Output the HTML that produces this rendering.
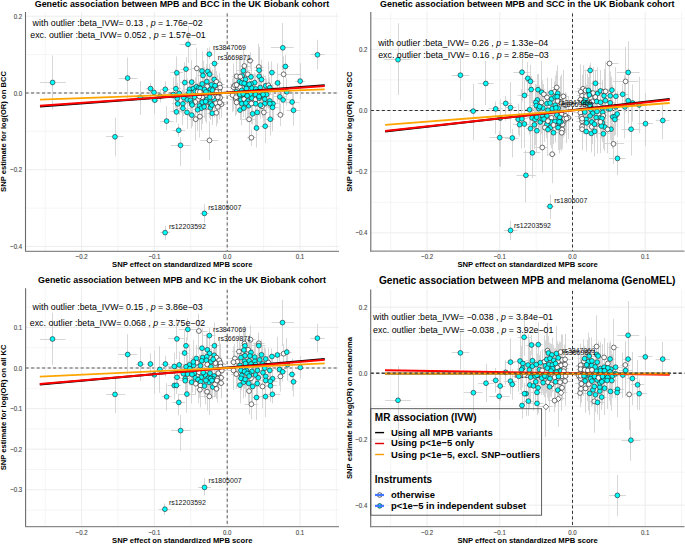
<!DOCTYPE html>
<html><head><meta charset="utf-8"><style>
html,body{margin:0;padding:0;background:#fff;width:685px;height:544px;overflow:hidden}
svg{display:block}
text{font-family:"Liberation Sans",sans-serif}
</style></head><body>
<svg width="685" height="544" viewBox="0 0 685 544">
<rect width="685" height="544" fill="#fff"/>
<line x1="45.2" y1="12" x2="45.2" y2="251.3" stroke="#EBEBEB" stroke-width="0.5"/>
<line x1="118" y1="12" x2="118" y2="251.3" stroke="#EBEBEB" stroke-width="0.5"/>
<line x1="190.8" y1="12" x2="190.8" y2="251.3" stroke="#EBEBEB" stroke-width="0.5"/>
<line x1="263.6" y1="12" x2="263.6" y2="251.3" stroke="#EBEBEB" stroke-width="0.5"/>
<line x1="336.4" y1="12" x2="336.4" y2="251.3" stroke="#EBEBEB" stroke-width="0.5"/>
<line x1="25.5" y1="54.63" x2="339" y2="54.63" stroke="#EBEBEB" stroke-width="0.5"/>
<line x1="25.5" y1="131.37" x2="339" y2="131.37" stroke="#EBEBEB" stroke-width="0.5"/>
<line x1="25.5" y1="208.11" x2="339" y2="208.11" stroke="#EBEBEB" stroke-width="0.5"/>
<line x1="81.6" y1="12" x2="81.6" y2="251.3" stroke="#EBEBEB" stroke-width="0.9"/>
<line x1="154.4" y1="12" x2="154.4" y2="251.3" stroke="#EBEBEB" stroke-width="0.9"/>
<line x1="227.2" y1="12" x2="227.2" y2="251.3" stroke="#EBEBEB" stroke-width="0.9"/>
<line x1="300" y1="12" x2="300" y2="251.3" stroke="#EBEBEB" stroke-width="0.9"/>
<line x1="25.5" y1="16.26" x2="339" y2="16.26" stroke="#EBEBEB" stroke-width="0.9"/>
<line x1="25.5" y1="93" x2="339" y2="93" stroke="#EBEBEB" stroke-width="0.9"/>
<line x1="25.5" y1="169.74" x2="339" y2="169.74" stroke="#EBEBEB" stroke-width="0.9"/>
<line x1="25.5" y1="246.48" x2="339" y2="246.48" stroke="#EBEBEB" stroke-width="0.9"/>
<line x1="25.5" y1="93" x2="339" y2="93" stroke="#8A8A8A" stroke-width="1.4" stroke-dasharray="3.1 2.4"/>
<line x1="227.2" y1="13.5" x2="227.2" y2="251.3" stroke="#5A5A5A" stroke-width="1.0" stroke-dasharray="3 2.5"/>
<path d="M40 82.5H65.8M52.5 55.4V109.4M118.8 78.5H137.5M127.5 57.6V98.4M106 136.5H123.4M115.5 117.7V156.3M135.37 97.5H145.43M140.5 81V115M160.37 232.5H169.83M165.5 225.7V239.8M200.1 213.5H208.6M204.5 204.2V222.6M271 47.5H293.7M282.5 23V70M310.4 54.5H324.5M317.5 39.7V69.5M286.6 110.5H300.4M293.5 92.26V125.7M179.4 44.5H196.5M188.5 26V63M206.11 54.5H212.49M209.5 47.6V59.4M160.2 121.5H173.7M166.5 106.3V130M172.3 130.5H185.2M178.5 123.8V136.7M170.9 145.5H190.7M180.5 137V166M200.3 140.5H218.3M209.5 121.1V160M146.01 88.5H154.99M150.5 83V98M150.75 92.5H157.25M154.5 70.3V114M150.98 100.5H158.62M154.5 91.25V109.15M160.59 89.5H170.01M165.5 81.2V97.3M154.86 96.5H165.54M160.5 89.6V102.5M210.3 63.5H218.7M214.5 48.35V78.85M191 68.5H202.6M196.5 47.69V89.11M180.7 69.5H191.3M186.5 57.19V81.01M170.3 72.5H183.3M176.5 56.4V89.2M197.85 71.5H206.15M202.5 51.33V90.67M204.23 71.5H211.17M207.5 47.82V95.18M196.97 75.5H209.03M203.5 60.81V90.19M204.64 74.5H214.56M209.5 63.87V84.73M208.53 79.5H219.87M214.5 70.77V88.03M179.51 82.5H190.09M184.5 62.37V102.83M187.45 82.5H195.95M191.5 60.09V104.11M170.52 88.5H181.28M175.5 69.58V107.82M168.48 94.5H178.12M173.5 77.32V111.88M172.42 93.5H185.98M179.5 72.06V114.94M171.54 98.5H182.86M177.5 82.81V113.99M171.89 103.5H183.51M177.5 94.83V112.77M176.83 97.5H190.77M183.5 79.45V116.15M183.16 99.5H191.44M187.5 78.65V120.95M177.23 103.5H188.57M182.5 89.63V117.97M184.65 89.5H194.35M189.5 80.94V97.66M185.53 92.5H192.47M189.5 81.71V103.09M187.33 88.5H199.47M193.5 79.56V97.44M192.51 86.5H200.49M196.5 76.63V96.77M188.71 91.5H201.69M195.5 77.24V105.76M189.9 97.5H199.5M194.5 87.91V106.49M183.87 100.5H196.93M190.5 83.51V117.09M192.24 87.5H205.16M198.5 66.69V108.91M193.14 99.5H202.46M197.5 87.35V112.25M188.66 102.5H201.74M195.5 88.26V115.74M188.1 103.5H195.3M191.5 79.98V126.62M212.47 81.5H220.33M216.5 71.08V92.72M214.66 84.5H224.54M219.5 72.67V96.13M202.75 81.5H210.85M206.5 64.17V99.03M197.52 83.5H206.88M202.5 75.83V91.97M206.13 84.5H216.67M211.5 70.89V98.71M209.24 85.5H220.76M215.5 62.45V108.95M194.83 88.5H205.77M200.5 72.25V104.75M203.98 86.5H210.42M207.5 67.68V105.32M198.38 89.5H210.62M204.5 67.01V111.79M204.21 89.5H216.59M210.5 67.41V111.39M213.2 89.5H222.4M217.5 75.12V103.68M214.56 87.5H225.64M220.5 77.94V97.26M194.33 91.5H200.87M197.5 82.7V100.7M204.95 93.5H212.25M208.5 81.76V104.44M209.99 92.5H216.41M213.5 78.76V105.64M215.99 92.5H223.21M219.5 84.2V100.2M197.75 97.5H206.65M202.5 87.58V106.82M200.3 99.5H213.3M206.5 91.09V107.91M210.51 99.5H217.69M214.5 81.67V117.33M215.71 97.5H224.49M220.5 85.66V109.74M208.81 97.5H215.79M212.5 83.37V111.03M195.23 102.5H209.17M202.5 80.72V123.88M205.46 103.5H215.34M210.5 87.74V118.66M212.59 103.5H219.41M216.5 93.83V112.57M217.44 104.5H225.56M221.5 90.62V117.58M188.45 105.5H195.75M192.5 83.74V126.26M192.6 106.5H206.2M199.5 97.63V114.37M203.21 106.5H210.39M206.5 90.45V123.35M214.69 106.5H220.91M217.5 90.21V123.59M175.99 108.5H189.81M182.5 91.85V124.75M195.42 108.5H206.98M201.5 86.49V130.11M205.93 107.5H214.87M210.5 95.62V119.98M170.31 111.5H182.49M176.5 101.23V122.57M180.88 112.5H193.12M187.5 95.88V128.92M187.91 115.5H195.69M191.5 101.83V128.37M190.66 109.5H204.54M197.5 88.82V130.78M189.48 119.5H201.92M195.5 97.56V140.84M193.94 116.5H205.86M199.5 95.41V137.59M207.23 113.5H217.37M212.5 101.67V124.93M213.28 112.5H219.52M216.5 99.11V126.49M245.98 60.5H254.22M250.5 52.25V69.15M238.63 66.5H250.17M244.5 53.85V78.15M254.01 67.5H263.59M258.5 43.7V90.3M236.45 70.5H250.35M243.5 47.81V93.79M254.64 70.5H263.56M259.5 46.92V93.48M281.49 66.5H289.31M285.5 54.97V78.03M268.08 72.5H275.72M271.5 61.45V83.75M277 74.5H301.3M283.5 56.31V92.29M231.78 76.5H241.62M236.5 54.85V97.75M241.6 74.5H254M247.5 55.85V92.75M245.36 76.5H256.64M251.5 67.54V86.26M253.07 76.5H265.33M259.5 53.74V98.86M256.59 79.5H266.41M261.5 59.6V99.6M236.04 76.5H248.36M242.5 65.14V86.86M236.5 79.5H248.9M242.5 66.28V92.92M234.92 81.5H244.08M239.5 58.15V105.25M238.71 79.5H252.29M245.5 64.98V93.82M273.92 83.5H281.28M277.5 63.4V102.6M251.1 82.5H258.3M254.5 72.57V92.63M244.77 84.5H257.23M251.5 61.52V106.48M239.59 84.5H252.21M245.5 74.56V95.24M227.87 87.5H239.13M233.5 63.52V110.88M234.81 87.5H245.19M240.5 73.59V100.81M262.64 85.5H268.76M265.5 75.7V95.9M262.8 85.5H274M268.5 61.77V108.83M253.47 87.5H266.93M260.5 71.17V104.03M245.41 88.5H258.39M251.5 73.16V103.04M242.56 88.5H250.24M246.5 67.28V109.72M230.73 85.5H239.07M234.5 73.27V97.33M236.45 90.5H247.15M241.5 78.55V102.25M231.62 91.5H240.98M236.5 79.65V103.95M263.16 87.5H276.44M269.5 77.5V97.7M281.97 91.5H291.63M286.5 78.14V105.46M273.28 96.5H286.52M279.5 79.47V114.13M276.43 99.5H289.77M283.5 85.17V114.63M261.47 94.5H271.73M266.5 78.47V110.53M258.03 95.5H264.17M261.5 79.02V111.78M251.87 94.5H259.33M255.5 79.46V109.54M244.3 94.5H256.7M250.5 86.04V102.16M240.61 95.5H250.39M245.5 84.64V106.16M234.77 96.5H245.23M240.5 76.8V116M230.33 95.5H240.47M235.5 82.18V108.62M229.66 99.5H241.94M235.5 82.21V115.99M235.66 100.5H246.14M240.5 90.3V109.7M239.99 99.5H248.21M244.5 87.12V111.08M242.77 101.5H252.83M247.5 80.64V121.36M245.86 98.5H257.94M251.5 81.21V115.19M250.83 99.5H260.37M255.5 77V122.2M254.18 98.5H264.22M259.5 80.4V116M259.03 99.5H270.57M264.5 82.91V115.29M264.67 101.5H274.93M269.5 85.76V116.24M266.23 103.5H279.77M273.5 88.05V119.35M258.29 103.5H271.31M264.5 84.51V122.89M251.56 103.5H259.64M255.5 80.63V126.77M241.43 103.5H254.97M248.5 86.75V120.65M238.25 103.5H245.35M241.5 82.26V125.14M235.23 110.5H244.77M240.5 100.15V120.05M239.84 108.5H247.76M243.5 98.94V117.26M243.02 105.5H254.38M248.5 96.53V114.87M244.81 103.5H257.99M251.5 82.96V124.04M246.74 113.5H258.46M252.5 103.33V124.27M253.63 112.5H260.77M257.5 93.84V130.96M242.23 119.5H255.97M249.5 97.17V141.43M255.19 106.5H268.81M262.5 94.79V117.81M264.85 103.5H274.75M269.5 89.33V118.07M266.27 107.5H278.93M272.5 83.56V131.24M259.07 112.5H268.53M263.5 101.82V122.98M265.94 119.5H274.66M270.5 103.05V135.55M276.13 114.5H284.67M280.5 103.77V126.03M253.42 128.5H259.58M256.5 108.45V147.55M260.44 126.5H269.96M265.5 109.34V143.06M247.07 137.5H255.73M251.5 129.41V145.99M295.15 81.5H305.25M300.5 63.12V99.08M285.16 102.5H299.04M292.5 92.97V111.03M205.61 90.5H219.39M212.5 69.59V110.81M195.84 91.5H203.96M199.5 82.22V101.58M199.78 91.5H212.02M205.5 83.27V100.53M212.98 91.5H220.02M216.5 79.57V104.23M192.65 96.5H205.95M199.5 81.74V111.26M205.87 97.5H213.93M209.5 76.1V118.3M211.12 97.5H224.48M217.5 86.81V107.59M214 102.5H225.6M219.5 85.37V119.63M208.67 105.5H215.13M211.5 95.67V114.53M235.6 76.5H245M240.5 57.59V95.61M234.85 82.5H248.35M241.5 73.74V92.06M237.99 83.5H250.41M244.5 65.15V101.45M242.78 84.5H255.62M249.5 74.96V93.64M230.15 84.5H243.05M236.5 75.83V93.97M251.44 88.5H260.16M255.5 73.64V104.16M225.89 95.5H239.31M232.5 78.35V112.05M232.48 97.5H239.52M236.5 84.91V109.49M235.95 94.5H243.85M239.5 78.07V110.93M239.55 93.5H246.85M243.5 84.15V103.65M243.39 95.5H251.01M247.5 86.99V104.61M254.88 96.5H263.32M259.5 83.51V109.49M258.94 94.5H267.26M263.5 74.35V114.65M242.19 103.5H249.61M245.5 87.1V119.1M257.43 105.5H263.57M260.5 91.55V118.65M233.54 102.5H239.66M236.5 90.49V114.51M200.4 101.5H210.8M205.5 81.77V121.23M199.3 106.5H209.1M204.5 95.77V117.83" stroke="#D2D2D2" stroke-width="0.9" fill="none"/>
<g stroke="#1f1f1f" stroke-width="0.62"><circle cx="52.6" cy="82.5" r="2.4" fill="#00FFFF"/><circle cx="127.6" cy="78.1" r="2.4" fill="#00FFFF"/><circle cx="115" cy="136.8" r="2.4" fill="#00FFFF"/><circle cx="140.4" cy="97.3" r="2.4" fill="#00FFFF"/><circle cx="165.1" cy="232.6" r="2.4" fill="#00FFFF"/><circle cx="204.4" cy="213.4" r="2.4" fill="#00FFFF"/><circle cx="282.8" cy="47.8" r="2.4" fill="#00FFFF"/><circle cx="317.5" cy="54.8" r="2.4" fill="#00FFFF"/><circle cx="293.5" cy="110.3" r="2.4" fill="#00FFFF"/><circle cx="188" cy="44.3" r="2.4" fill="#00FFFF"/><circle cx="209.3" cy="54.2" r="2.4" fill="#00FFFF"/><circle cx="166.6" cy="121.1" r="2.4" fill="#00FFFF"/><circle cx="178.7" cy="130.3" r="2.4" fill="#00FFFF"/><circle cx="180.5" cy="145.3" r="2.4" fill="#00FFFF"/><circle cx="209.5" cy="140.4" r="2.4" fill="#FFFFFF"/><circle cx="150.5" cy="88.6" r="2.4" fill="#00FFFF"/><circle cx="154" cy="92.4" r="2.4" fill="#00FFFF"/><circle cx="154.8" cy="100.2" r="2.4" fill="#00FFFF"/><circle cx="165.3" cy="89.3" r="2.4" fill="#00FFFF"/><circle cx="160.2" cy="96.3" r="2.4" fill="#00FFFF"/><circle cx="214.5" cy="63.6" r="2.4" fill="#00FFFF"/><circle cx="196.8" cy="68.4" r="2.4" fill="#FFFFFF"/><circle cx="186" cy="69.1" r="2.4" fill="#00FFFF"/><circle cx="176.8" cy="72.8" r="2.4" fill="#00FFFF"/><circle cx="202" cy="71" r="2.4" fill="#00FFFF"/><circle cx="207.7" cy="71.5" r="2.4" fill="#00FFFF"/><circle cx="203" cy="75.5" r="2.4" fill="#00FFFF"/><circle cx="209.6" cy="74.3" r="2.4" fill="#00FFFF"/><circle cx="214.2" cy="79.4" r="2.4" fill="#00FFFF"/><circle cx="184.8" cy="82.6" r="2.4" fill="#00FFFF"/><circle cx="191.7" cy="82.1" r="2.4" fill="#00FFFF"/><circle cx="175.9" cy="88.7" r="2.4" fill="#00FFFF"/><circle cx="173.3" cy="94.6" r="2.4" fill="#00FFFF"/><circle cx="179.2" cy="93.5" r="2.4" fill="#00FFFF"/><circle cx="177.2" cy="98.4" r="2.4" fill="#00FFFF"/><circle cx="177.7" cy="103.8" r="2.4" fill="#00FFFF"/><circle cx="183.8" cy="97.8" r="2.4" fill="#00FFFF"/><circle cx="187.3" cy="99.8" r="2.4" fill="#00FFFF"/><circle cx="182.9" cy="103.8" r="2.4" fill="#00FFFF"/><circle cx="189.5" cy="89.3" r="2.4" fill="#00FFFF"/><circle cx="189" cy="92.4" r="2.4" fill="#00FFFF"/><circle cx="193.4" cy="88.5" r="2.4" fill="#00FFFF"/><circle cx="196.5" cy="86.7" r="2.4" fill="#00FFFF"/><circle cx="195.2" cy="91.5" r="2.4" fill="#00FFFF"/><circle cx="194.7" cy="97.2" r="2.4" fill="#00FFFF"/><circle cx="190.4" cy="100.3" r="2.4" fill="#00FFFF"/><circle cx="198.7" cy="87.8" r="2.4" fill="#00FFFF"/><circle cx="197.8" cy="99.8" r="2.4" fill="#FFFFFF"/><circle cx="195.2" cy="102" r="2.4" fill="#FFFFFF"/><circle cx="191.7" cy="103.3" r="2.4" fill="#00FFFF"/><circle cx="216.4" cy="81.9" r="2.4" fill="#FFFFFF"/><circle cx="219.6" cy="84.4" r="2.4" fill="#FFFFFF"/><circle cx="206.8" cy="81.6" r="2.4" fill="#00FFFF"/><circle cx="202.2" cy="83.9" r="2.4" fill="#00FFFF"/><circle cx="211.4" cy="84.8" r="2.4" fill="#00FFFF"/><circle cx="215" cy="85.7" r="2.4" fill="#00FFFF"/><circle cx="200.3" cy="88.5" r="2.4" fill="#00FFFF"/><circle cx="207.2" cy="86.5" r="2.4" fill="#FFFFFF"/><circle cx="204.5" cy="89.4" r="2.4" fill="#00FFFF"/><circle cx="210.4" cy="89.4" r="2.4" fill="#00FFFF"/><circle cx="217.8" cy="89.4" r="2.4" fill="#FFFFFF"/><circle cx="220.1" cy="87.6" r="2.4" fill="#FFFFFF"/><circle cx="197.6" cy="91.7" r="2.4" fill="#FFFFFF"/><circle cx="208.6" cy="93.1" r="2.4" fill="#00FFFF"/><circle cx="213.2" cy="92.2" r="2.4" fill="#00FFFF"/><circle cx="219.6" cy="92.2" r="2.4" fill="#FFFFFF"/><circle cx="202.2" cy="97.2" r="2.4" fill="#FFFFFF"/><circle cx="206.8" cy="99.5" r="2.4" fill="#00FFFF"/><circle cx="214.1" cy="99.5" r="2.4" fill="#00FFFF"/><circle cx="220.1" cy="97.7" r="2.4" fill="#FFFFFF"/><circle cx="212.3" cy="97.2" r="2.4" fill="#FFFFFF"/><circle cx="202.2" cy="102.3" r="2.4" fill="#00FFFF"/><circle cx="210.4" cy="103.2" r="2.4" fill="#00FFFF"/><circle cx="216" cy="103.2" r="2.4" fill="#FFFFFF"/><circle cx="221.5" cy="104.1" r="2.4" fill="#FFFFFF"/><circle cx="192.1" cy="105" r="2.4" fill="#00FFFF"/><circle cx="199.4" cy="106" r="2.4" fill="#00FFFF"/><circle cx="206.8" cy="106.9" r="2.4" fill="#FFFFFF"/><circle cx="217.8" cy="106.9" r="2.4" fill="#FFFFFF"/><circle cx="182.9" cy="108.3" r="2.4" fill="#00FFFF"/><circle cx="201.2" cy="108.3" r="2.4" fill="#00FFFF"/><circle cx="210.4" cy="107.8" r="2.4" fill="#00FFFF"/><circle cx="176.4" cy="111.9" r="2.4" fill="#00FFFF"/><circle cx="187" cy="112.4" r="2.4" fill="#00FFFF"/><circle cx="191.8" cy="115.1" r="2.4" fill="#00FFFF"/><circle cx="197.6" cy="109.8" r="2.4" fill="#00FFFF"/><circle cx="195.7" cy="119.2" r="2.4" fill="#FFFFFF"/><circle cx="199.9" cy="116.5" r="2.4" fill="#FFFFFF"/><circle cx="212.3" cy="113.3" r="2.4" fill="#00FFFF"/><circle cx="216.4" cy="112.8" r="2.4" fill="#FFFFFF"/><circle cx="250.1" cy="60.7" r="2.4" fill="#FFFFFF"/><circle cx="244.4" cy="66" r="2.4" fill="#FFFFFF"/><circle cx="258.8" cy="67" r="2.4" fill="#FFFFFF"/><circle cx="243.4" cy="70.8" r="2.4" fill="#00FFFF"/><circle cx="259.1" cy="70.2" r="2.4" fill="#00FFFF"/><circle cx="285.4" cy="66.5" r="2.4" fill="#00FFFF"/><circle cx="271.9" cy="72.6" r="2.4" fill="#00FFFF"/><circle cx="283.6" cy="74.3" r="2.4" fill="#FFFFFF"/><circle cx="236.7" cy="76.3" r="2.4" fill="#FFFFFF"/><circle cx="247.8" cy="74.3" r="2.4" fill="#FFFFFF"/><circle cx="251" cy="76.9" r="2.4" fill="#00FFFF"/><circle cx="259.2" cy="76.3" r="2.4" fill="#00FFFF"/><circle cx="261.5" cy="79.6" r="2.4" fill="#00FFFF"/><circle cx="242.2" cy="76" r="2.4" fill="#00FFFF"/><circle cx="242.7" cy="79.6" r="2.4" fill="#FFFFFF"/><circle cx="239.5" cy="81.7" r="2.4" fill="#00FFFF"/><circle cx="245.5" cy="79.4" r="2.4" fill="#00FFFF"/><circle cx="277.6" cy="83" r="2.4" fill="#00FFFF"/><circle cx="254.7" cy="82.6" r="2.4" fill="#00FFFF"/><circle cx="251" cy="84" r="2.4" fill="#00FFFF"/><circle cx="245.9" cy="84.9" r="2.4" fill="#00FFFF"/><circle cx="233.5" cy="87.2" r="2.4" fill="#FFFFFF"/><circle cx="240" cy="87.2" r="2.4" fill="#FFFFFF"/><circle cx="265.7" cy="85.8" r="2.4" fill="#00FFFF"/><circle cx="268.4" cy="85.3" r="2.4" fill="#FFFFFF"/><circle cx="260.2" cy="87.6" r="2.4" fill="#00FFFF"/><circle cx="251.9" cy="88.1" r="2.4" fill="#00FFFF"/><circle cx="246.4" cy="88.5" r="2.4" fill="#00FFFF"/><circle cx="234.9" cy="85.3" r="2.4" fill="#FFFFFF"/><circle cx="241.8" cy="90.4" r="2.4" fill="#00FFFF"/><circle cx="236.3" cy="91.8" r="2.4" fill="#00FFFF"/><circle cx="269.8" cy="87.6" r="2.4" fill="#00FFFF"/><circle cx="286.8" cy="91.8" r="2.4" fill="#00FFFF"/><circle cx="279.9" cy="96.8" r="2.4" fill="#00FFFF"/><circle cx="283.1" cy="99.9" r="2.4" fill="#00FFFF"/><circle cx="266.6" cy="94.5" r="2.4" fill="#00FFFF"/><circle cx="261.1" cy="95.4" r="2.4" fill="#00FFFF"/><circle cx="255.6" cy="94.5" r="2.4" fill="#00FFFF"/><circle cx="250.5" cy="94.1" r="2.4" fill="#00FFFF"/><circle cx="245.5" cy="95.4" r="2.4" fill="#00FFFF"/><circle cx="240" cy="96.4" r="2.4" fill="#00FFFF"/><circle cx="235.4" cy="95.4" r="2.4" fill="#FFFFFF"/><circle cx="235.8" cy="99.1" r="2.4" fill="#FFFFFF"/><circle cx="240.9" cy="100" r="2.4" fill="#00FFFF"/><circle cx="244.1" cy="99.1" r="2.4" fill="#FFFFFF"/><circle cx="247.8" cy="101" r="2.4" fill="#00FFFF"/><circle cx="251.9" cy="98.2" r="2.4" fill="#00FFFF"/><circle cx="255.6" cy="99.6" r="2.4" fill="#FFFFFF"/><circle cx="259.2" cy="98.2" r="2.4" fill="#00FFFF"/><circle cx="264.8" cy="99.1" r="2.4" fill="#00FFFF"/><circle cx="269.8" cy="101" r="2.4" fill="#00FFFF"/><circle cx="273" cy="103.7" r="2.4" fill="#00FFFF"/><circle cx="264.8" cy="103.7" r="2.4" fill="#00FFFF"/><circle cx="255.6" cy="103.7" r="2.4" fill="#00FFFF"/><circle cx="248.2" cy="103.7" r="2.4" fill="#FFFFFF"/><circle cx="241.8" cy="103.7" r="2.4" fill="#00FFFF"/><circle cx="240" cy="110.1" r="2.4" fill="#00FFFF"/><circle cx="243.8" cy="108.1" r="2.4" fill="#00FFFF"/><circle cx="248.7" cy="105.7" r="2.4" fill="#00FFFF"/><circle cx="251.4" cy="103.5" r="2.4" fill="#FFFFFF"/><circle cx="252.6" cy="113.8" r="2.4" fill="#00FFFF"/><circle cx="257.2" cy="112.4" r="2.4" fill="#00FFFF"/><circle cx="249.1" cy="119.3" r="2.4" fill="#FFFFFF"/><circle cx="262" cy="106.3" r="2.4" fill="#FFFFFF"/><circle cx="269.8" cy="103.7" r="2.4" fill="#00FFFF"/><circle cx="272.6" cy="107.4" r="2.4" fill="#00FFFF"/><circle cx="263.8" cy="112.4" r="2.4" fill="#FFFFFF"/><circle cx="270.3" cy="119.3" r="2.4" fill="#00FFFF"/><circle cx="280.4" cy="114.9" r="2.4" fill="#FFFFFF"/><circle cx="256.5" cy="128" r="2.4" fill="#00FFFF"/><circle cx="265.2" cy="126.2" r="2.4" fill="#00FFFF"/><circle cx="251.4" cy="137.7" r="2.4" fill="#FFFFFF"/><circle cx="300.2" cy="81.1" r="2.4" fill="#00FFFF"/><circle cx="292.1" cy="102" r="2.4" fill="#00FFFF"/><circle cx="212.5" cy="90.2" r="2.4" fill="#00FFFF"/><circle cx="199.9" cy="91.9" r="2.4" fill="#FFFFFF"/><circle cx="205.9" cy="91.9" r="2.4" fill="#00FFFF"/><circle cx="216.5" cy="91.9" r="2.4" fill="#FFFFFF"/><circle cx="199.3" cy="96.5" r="2.4" fill="#FFFFFF"/><circle cx="209.9" cy="97.2" r="2.4" fill="#00FFFF"/><circle cx="217.8" cy="97.2" r="2.4" fill="#FFFFFF"/><circle cx="219.8" cy="102.5" r="2.4" fill="#FFFFFF"/><circle cx="211.9" cy="105.1" r="2.4" fill="#00FFFF"/><circle cx="240.3" cy="76.6" r="2.4" fill="#FFFFFF"/><circle cx="241.6" cy="82.9" r="2.4" fill="#00FFFF"/><circle cx="244.2" cy="83.3" r="2.4" fill="#00FFFF"/><circle cx="249.2" cy="84.3" r="2.4" fill="#00FFFF"/><circle cx="236.6" cy="84.9" r="2.4" fill="#FFFFFF"/><circle cx="255.8" cy="88.9" r="2.4" fill="#00FFFF"/><circle cx="232.6" cy="95.2" r="2.4" fill="#FFFFFF"/><circle cx="236" cy="97.2" r="2.4" fill="#FFFFFF"/><circle cx="239.9" cy="94.5" r="2.4" fill="#00FFFF"/><circle cx="243.2" cy="93.9" r="2.4" fill="#00FFFF"/><circle cx="247.2" cy="95.8" r="2.4" fill="#00FFFF"/><circle cx="259.1" cy="96.5" r="2.4" fill="#00FFFF"/><circle cx="263.1" cy="94.5" r="2.4" fill="#00FFFF"/><circle cx="245.9" cy="103.1" r="2.4" fill="#00FFFF"/><circle cx="260.5" cy="105.1" r="2.4" fill="#00FFFF"/><circle cx="236.6" cy="102.5" r="2.4" fill="#FFFFFF"/><circle cx="205.6" cy="101.5" r="2.4" fill="#00FFFF"/><circle cx="204.2" cy="106.8" r="2.4" fill="#00FFFF"/></g>
<line x1="40" y1="106.6" x2="324.7" y2="85.3" stroke="#000" stroke-width="2.0"/>
<line x1="40" y1="105.8" x2="324.7" y2="86.1" stroke="#FF0000" stroke-width="2.0"/>
<line x1="40" y1="99.6" x2="324.7" y2="89.4" stroke="#FFA500" stroke-width="1.8"/>
<path d="M25.5 12V251.8" stroke="#6A6A6A" stroke-width="1.1" fill="none"/>
<path d="M25.0 251.3H339" stroke="#8A8A8A" stroke-width="1.2" fill="none"/>
<text transform="translate(81.6 258.8) scale(1 1.2)" text-anchor="middle" font-size="6.1" fill="#4A4A4A" stroke="#4A4A4A" stroke-width="0.1">−0.2</text>
<text transform="translate(154.4 258.8) scale(1 1.2)" text-anchor="middle" font-size="6.1" fill="#4A4A4A" stroke="#4A4A4A" stroke-width="0.1">−0.1</text>
<text transform="translate(227.2 258.8) scale(1 1.2)" text-anchor="middle" font-size="6.1" fill="#4A4A4A" stroke="#4A4A4A" stroke-width="0.1">0.0</text>
<text transform="translate(300 258.8) scale(1 1.2)" text-anchor="middle" font-size="6.1" fill="#4A4A4A" stroke="#4A4A4A" stroke-width="0.1">0.1</text>
<text transform="translate(22.1 18.76) scale(1 1.2)" text-anchor="end" font-size="6.1" fill="#4A4A4A" stroke="#4A4A4A" stroke-width="0.1">0.2</text>
<text transform="translate(22.1 95.5) scale(1 1.2)" text-anchor="end" font-size="6.1" fill="#4A4A4A" stroke="#4A4A4A" stroke-width="0.1">0.0</text>
<text transform="translate(22.1 172.24) scale(1 1.2)" text-anchor="end" font-size="6.1" fill="#4A4A4A" stroke="#4A4A4A" stroke-width="0.1">−0.2</text>
<text transform="translate(22.1 248.98) scale(1 1.2)" text-anchor="end" font-size="6.1" fill="#4A4A4A" stroke="#4A4A4A" stroke-width="0.1">−0.4</text>
<text x="34.7" y="6.9" font-size="8.94" style="font-weight:bold">Genetic association between MPB and BCC in the UK Biobank cohort</text>
<text x="32.6" y="26.1" font-size="8.83">with outlier :beta_IVW= 0.13 , <tspan font-style="italic">p</tspan> = 1.76e−02</text>
<text x="30.3" y="37.5" font-size="8.83">exc. outlier :beta_IVW= 0.052 , <tspan font-style="italic">p</tspan> = 1.57e−01</text>
<text x="182.3" y="266.8" text-anchor="middle" font-size="7.65" style="font-weight:bold">SNP effect on standardized MPB score</text>
<text transform="translate(6.4 131.5) rotate(-90)" text-anchor="middle" font-size="7.62" style="font-weight:bold">SNP estimate for log(OR) on BCC</text>
<text x="212.9" y="50.1" font-size="7" fill="#111">rs3847069</text>
<text x="217.7" y="59.9" font-size="7" fill="#111">rs3669871</text>
<text x="208.2" y="209.5" font-size="7" fill="#111">rs1805007</text>
<text x="168.9" y="228.5" font-size="7" fill="#111">rs12203592</text>
<line x1="390.75" y1="12" x2="390.75" y2="251.2" stroke="#EBEBEB" stroke-width="0.5"/>
<line x1="463.45" y1="12" x2="463.45" y2="251.2" stroke="#EBEBEB" stroke-width="0.5"/>
<line x1="536.15" y1="12" x2="536.15" y2="251.2" stroke="#EBEBEB" stroke-width="0.5"/>
<line x1="608.85" y1="12" x2="608.85" y2="251.2" stroke="#EBEBEB" stroke-width="0.5"/>
<line x1="681.55" y1="12" x2="681.55" y2="251.2" stroke="#EBEBEB" stroke-width="0.5"/>
<line x1="370.8" y1="18.7" x2="684.5" y2="18.7" stroke="#EBEBEB" stroke-width="0.5"/>
<line x1="370.8" y1="79.9" x2="684.5" y2="79.9" stroke="#EBEBEB" stroke-width="0.5"/>
<line x1="370.8" y1="141.1" x2="684.5" y2="141.1" stroke="#EBEBEB" stroke-width="0.5"/>
<line x1="370.8" y1="202.3" x2="684.5" y2="202.3" stroke="#EBEBEB" stroke-width="0.5"/>
<line x1="427.1" y1="12" x2="427.1" y2="251.2" stroke="#EBEBEB" stroke-width="0.9"/>
<line x1="499.8" y1="12" x2="499.8" y2="251.2" stroke="#EBEBEB" stroke-width="0.9"/>
<line x1="572.5" y1="12" x2="572.5" y2="251.2" stroke="#EBEBEB" stroke-width="0.9"/>
<line x1="645.2" y1="12" x2="645.2" y2="251.2" stroke="#EBEBEB" stroke-width="0.9"/>
<line x1="370.8" y1="49.3" x2="684.5" y2="49.3" stroke="#EBEBEB" stroke-width="0.9"/>
<line x1="370.8" y1="110.5" x2="684.5" y2="110.5" stroke="#EBEBEB" stroke-width="0.9"/>
<line x1="370.8" y1="171.7" x2="684.5" y2="171.7" stroke="#EBEBEB" stroke-width="0.9"/>
<line x1="370.8" y1="232.9" x2="684.5" y2="232.9" stroke="#EBEBEB" stroke-width="0.9"/>
<line x1="370.8" y1="110.5" x2="684.5" y2="110.5" stroke="#333" stroke-width="1.0" stroke-dasharray="3.1 2.4"/>
<line x1="572.5" y1="13.5" x2="572.5" y2="251.2" stroke="#333" stroke-width="1.0" stroke-dasharray="3 2.5"/>
<path d="M384.3 59.5H410.8M398.5 23.3V95M451.6 75.5H469.3M460.5 57.5V100.5M478.1 83.5H493.5M485.5 60.8V105M468.17 111.5H478.23M473.5 84V140M488.77 108.5H502.63M495.5 101.6V134.03M499.37 103.5H512.03M505.5 96V120.94M504.96 107.5H516.04M510.5 82.05V133.15M495.81 118.5H504.59M500.5 99.3V166.6M489.3 137.5H508.8M499.5 131V166.6M505 138.5H518.8M512.5 128.8V157.4M514.55 119.5H521.85M518.5 103.68V134.92M513.23 124.5H525.97M519.5 112.84V136.56M513.3 72.5H529.6M522.5 59V101.35M523.83 78.5H531.77M527.5 62.1V94.5M525.66 81.5H535.34M530.5 64.95V97.85M526.42 89.5H535.98M531.5 76.03V102.97M531.15 89.5H544.85M538.5 73.91V105.49M536.51 92.5H546.89M541.5 60.9V123.7M517.64 95.5H531.36M524.5 80.02V110.78M552.27 87.5H561.13M556.5 70.69V104.31M550.17 91.5H559.23M554.5 81.78V101.82M552.69 93.5H562.71M557.5 72.86V113.74M546.08 92.5H556.12M551.5 78.38V107.22M539.84 94.5H547.96M543.5 84.19V104.41M542.4 97.5H551.6M547.5 85.43V109.37M548.51 98.5H554.69M551.5 87.98V109.82M551.27 96.5H559.13M555.5 80.21V113.59M556.18 97.5H566.42M561.5 74.52V120.28M557.77 96.5H569.03M563.5 69.89V122.91M530.78 100.5H543.82M537.5 74.25V125.75M531.5 102.5H540.1M535.5 83.93V121.07M537.8 102.5H545M541.5 70.84V134.16M541.43 103.5H552.57M547.5 77.57V129.43M543.76 103.5H556.44M550.5 92.04V113.96M549.69 105.5H560.71M555.5 75.48V134.72M554.55 102.5H567.05M560.5 76.36V128.64M560.3 105.5H570.5M565.5 92.04V118.16M529.96 105.5H542.64M536.5 84.5V126.7M536.59 108.5H549.21M542.5 80.4V135.8M532.23 108.5H545.37M538.5 85.75V131.45M523.83 109.5H535.37M529.5 84.68V134.72M548.98 108.5H555.22M552.5 93.54V123.66M553.76 108.5H562.64M558.5 95.17V121.03M589.16 83.5H601.84M595.5 70.99V95.61M552.09 101.5H563.11M557.5 78.71V123.29M577.28 88.5H588.72M583.5 65.02V112.58M582.59 90.5H588.61M585.5 69.74V111.26M574.81 91.5H586.79M580.5 64.25V119.35M576.96 95.5H587.24M582.5 74.73V116.87M577.14 99.5H583.66M580.5 75.2V124.2M581.59 98.5H589.61M585.5 72.59V125.01M585.54 92.5H593.66M589.5 80.66V103.94M589.28 93.5H596.92M593.5 67.05V119.15M590.6 93.5H604.4M597.5 67.32V119.88M595.97 90.5H605.03M600.5 70.03V111.77M598.27 91.5H609.73M604.5 71.26V112.34M598.53 95.5H609.47M604.5 68.93V122.67M606.89 95.5H613.51M610.5 71.66V119.94M607.88 90.5H615.92M611.5 76.86V103.34M586.68 98.5H595.12M590.5 71.65V124.35M592.25 97.5H598.35M595.5 74.61V119.59M592.52 101.5H600.68M596.5 90.17V112.83M594.73 102.5H606.27M600.5 77.52V127.08M601.24 100.5H609.56M605.5 75.73V125.47M605.34 102.5H615.06M610.5 81.44V124.16M588.73 101.5H595.67M592.5 81.24V121.76M583.6 103.5H591.2M587.5 73.54V132.86M577.15 102.5H590.65M583.5 70.78V133.82M585.16 105.5H594.84M590.5 95.01V115.79M595.43 108.5H609.17M602.5 79.96V136.04M604.33 108.5H612.47M608.5 89.01V128.79M573.62 112.5H587.18M580.5 98.18V127.42M579.47 112.5H590.13M584.5 97.36V126.64M585.8 109.5H596M590.5 96.68V122.92M589.17 113.5H596.23M592.5 82.34V144.26M591.97 111.5H602.03M597.5 83.46V139.54M596.89 112.5H608.51M602.5 82.89V141.91M574.71 116.5H587.89M581.5 101.71V131.89M583 119.5H589.2M586.5 98.7V140.1M585.03 115.5H594.97M590.5 105.82V125.98M591.99 117.5H600.41M596.5 97.78V137.62M596.12 117.5H604.88M600.5 104.6V130.8M596.84 115.5H609.56M603.5 98.95V132.85M576.1 121.5H588.1M582.5 111.16V131.24M583.02 122.5H589.98M586.5 94.44V151.36M585.95 122.5H597.65M591.5 91.62V152.38M592.84 123.5H601.16M597.5 93.97V153.63M597.73 122.5H606.87M602.5 104.71V141.09M607.44 116.5H618.16M612.5 84.83V148.77M556.89 114.5H566.31M561.5 96.16V132.04M562.31 115.5H568.69M565.5 99.85V131.95M552.56 119.5H565.24M558.5 107.16V131.64M557.06 121.5H570.54M563.5 104.92V137.48M552.74 115.5H560.86M556.5 99.51V130.49M535.94 106.5H543.46M539.5 85.36V127.84M541.08 110.5H554.72M547.5 91.99V128.41M515.65 118.5H528.15M521.5 89.45V148.35M517.75 124.5H531.05M524.5 100.12V147.88M526.9 117.5H537.3M532.5 87.2V148.6M531.9 119.5H538.3M535.5 93.57V145.23M535.5 122.5H545.1M540.5 95.89V148.11M536.72 118.5H547.88M542.5 92.34V145.46M543.7 115.5H550.1M546.5 99.5V132.1M547.99 117.5H555.01M551.5 87.51V148.29M555.33 117.5H564.07M559.5 97.01V137.79M558.34 118.5H570.26M564.5 102.35V135.45M526.46 128.5H534.54M530.5 97.12V160.08M530.2 124.5H538.6M534.5 100.37V149.23M532.32 130.5H541.48M536.5 108.44V152.96M543.25 124.5H550.55M546.5 110.82V138.18M544.38 122.5H557.62M551.5 107.43V136.57M551.22 121.5H558.98M555.5 100.56V142.44M552.21 123.5H566.19M559.5 93.56V153.44M559.14 124.5H566.26M562.5 104.6V144.4M541.54 127.5H548.26M544.5 113.37V141.83M547.14 127.5H553.86M550.5 110.08V145.12M549.47 125.5H557.53M553.5 109.74V140.26M551.55 127.5H564.65M558.5 105.07V150.13M543.25 129.5H552.55M547.5 103.11V156.09M557.1 129.5H567.3M562.5 110.49V148.71M557.35 132.5H566.05M561.5 114.41V150.99M549.39 132.5H557.61M553.5 121.33V144.07M534.6 147.5H547.9M542.5 116.21V172.7M523.4 152.5H540.3M532.5 131.83V178M548.34 154.5H556.06M552.5 125.22V183.18M605.51 63.5H618.5M609.5 40V88.9M616.6 72.5H639.7M628.5 41.3V91.19M612.7 81.5H638.4M625.5 47V112.39M612.81 96.5H618.99M615.5 67.1V125.5M616.86 94.5H628.54M622.5 83.59V105.01M600.71 91.5H610.49M605.5 61.69V121.11M625.2 100.5H631.2M628.5 77.78V123.62M625.99 103.5H639.41M632.5 84.39V121.61M632.68 105.5H645.52M639.5 76.84V133.16M620.91 106.5H628.89M624.5 75.51V138.29M612.28 106.5H619.52M615.5 94.5V119.3M655.8 120.5H669.6M662.5 105V139.1M637.9 123.5H653M645.5 92.99V146M621.4 129.5H640.6M631.5 104.96V155.6M604 143.5H624.1M613.5 123.84V163.96M609 158.5H625.5M617.5 140.5V175M596.72 133.5H610.08M603.5 118.68V148.92M600.58 127.5H609.02M604.5 102.8V151.2M606.99 129.5H615.01M611.5 116.38V142.02M601.81 129.5H613.39M607.5 105.4V153.4M598.12 126.5H604.68M601.5 113.53V138.47M596.77 118.5H607.43M602.5 96.86V139.94M611.31 116.5H619.09M615.5 97.86V134.94M614.16 114.5H620.24M617.5 90.78V137.22M610.06 119.5H619.74M614.5 102.87V136.13M604.72 108.5H615.88M610.5 77.7V139.9M577.2 118.5H587M582.5 89.26V148.14M592.81 121.5H600.79M596.5 106.74V137.06M594.58 121.5H606.22M600.5 90.77V153.03M579.01 126.5H585.19M582.5 109.74V143.26M576.4 129.5H587.8M582.5 108.24V150.16M587.67 126.5H595.73M591.5 107.66V146.14M587.8 124.5H601.2M594.5 99.52V148.88M583.06 131.5H589.34M586.5 116.51V146.49M586.62 133.5H595.98M591.5 115.96V150.84M590.91 131.5H598.49M594.5 106.38V156.42M554.94 121.5H566.86M560.5 94.36V149.44M564.48 117.5H572.12M568.5 96.69V138.91M552.95 96.5H561.45M557.5 65.26V127.94M551.98 107.5H559.82M555.5 79.86V135.94M536.26 115.5H548.34M542.5 100.33V130.07M537.19 119.5H550.81M544.5 102.61V135.59M544.15 121.5H551.65M547.5 100.19V142.01M554.53 121.5H563.87M559.5 106.89V136.71M559.7 118.5H573.3M566.5 93.86V143.14M532.13 117.5H541.27M536.5 103.88V130.32M583.3 70.5H597.1M590.5 62.9V77.6M585.19 90.5H591.61M588.5 77.28V103.52M581.53 96.5H590.67M586.5 84.68V107.32M582.77 95.5H595.83M589.5 65.24V124.76M516.6 175.5H535.8M525.5 150V202.4M545.68 206.5H554.32M550.5 194.6V219M503.76 230.5H517.24M510.5 220.8V240" stroke="#D2D2D2" stroke-width="0.9" fill="none"/>
<g stroke="#1f1f1f" stroke-width="0.62"><circle cx="398" cy="59.7" r="2.4" fill="#00FFFF"/><circle cx="460.4" cy="75.2" r="2.4" fill="#00FFFF"/><circle cx="485.8" cy="83.5" r="2.4" fill="#00FFFF"/><circle cx="473.2" cy="111.1" r="2.4" fill="#00FFFF"/><circle cx="495.7" cy="108.9" r="2.4" fill="#00FFFF"/><circle cx="505.7" cy="103.4" r="2.4" fill="#00FFFF"/><circle cx="510.5" cy="107.6" r="2.4" fill="#00FFFF"/><circle cx="500.2" cy="118.2" r="2.4" fill="#00FFFF"/><circle cx="499.7" cy="137.6" r="2.4" fill="#00FFFF"/><circle cx="512.3" cy="138" r="2.4" fill="#00FFFF"/><circle cx="518.2" cy="119.3" r="2.4" fill="#00FFFF"/><circle cx="519.6" cy="124.7" r="2.4" fill="#00FFFF"/><circle cx="522" cy="72.2" r="2.4" fill="#00FFFF"/><circle cx="527.8" cy="78.3" r="2.4" fill="#00FFFF"/><circle cx="530.5" cy="81.4" r="2.4" fill="#00FFFF"/><circle cx="531.2" cy="89.5" r="2.4" fill="#00FFFF"/><circle cx="538" cy="89.7" r="2.4" fill="#00FFFF"/><circle cx="541.7" cy="92.3" r="2.4" fill="#00FFFF"/><circle cx="524.5" cy="95.4" r="2.4" fill="#00FFFF"/><circle cx="556.7" cy="87.5" r="2.4" fill="#FFFFFF"/><circle cx="554.7" cy="91.8" r="2.4" fill="#FFFFFF"/><circle cx="557.7" cy="93.3" r="2.4" fill="#00FFFF"/><circle cx="551.1" cy="92.8" r="2.4" fill="#00FFFF"/><circle cx="543.9" cy="94.3" r="2.4" fill="#FFFFFF"/><circle cx="547" cy="97.4" r="2.4" fill="#FFFFFF"/><circle cx="551.6" cy="98.9" r="2.4" fill="#00FFFF"/><circle cx="555.2" cy="96.9" r="2.4" fill="#00FFFF"/><circle cx="561.3" cy="97.4" r="2.4" fill="#FFFFFF"/><circle cx="563.4" cy="96.4" r="2.4" fill="#FFFFFF"/><circle cx="537.3" cy="100" r="2.4" fill="#00FFFF"/><circle cx="535.8" cy="102.5" r="2.4" fill="#00FFFF"/><circle cx="541.4" cy="102.5" r="2.4" fill="#FFFFFF"/><circle cx="547" cy="103.5" r="2.4" fill="#00FFFF"/><circle cx="550.1" cy="103" r="2.4" fill="#00FFFF"/><circle cx="555.2" cy="105.1" r="2.4" fill="#00FFFF"/><circle cx="560.8" cy="102.5" r="2.4" fill="#FFFFFF"/><circle cx="565.4" cy="105.1" r="2.4" fill="#FFFFFF"/><circle cx="536.3" cy="105.6" r="2.4" fill="#00FFFF"/><circle cx="542.9" cy="108.1" r="2.4" fill="#00FFFF"/><circle cx="538.8" cy="108.6" r="2.4" fill="#00FFFF"/><circle cx="529.6" cy="109.7" r="2.4" fill="#00FFFF"/><circle cx="552.1" cy="108.6" r="2.4" fill="#00FFFF"/><circle cx="558.2" cy="108.1" r="2.4" fill="#00FFFF"/><circle cx="595.5" cy="83.3" r="2.4" fill="#00FFFF"/><circle cx="557.6" cy="101" r="2.4" fill="#FFFFFF"/><circle cx="583" cy="88.8" r="2.4" fill="#FFFFFF"/><circle cx="585.6" cy="90.5" r="2.4" fill="#FFFFFF"/><circle cx="580.8" cy="91.8" r="2.4" fill="#FFFFFF"/><circle cx="582.1" cy="95.8" r="2.4" fill="#FFFFFF"/><circle cx="580.4" cy="99.7" r="2.4" fill="#FFFFFF"/><circle cx="585.6" cy="98.8" r="2.4" fill="#00FFFF"/><circle cx="589.6" cy="92.3" r="2.4" fill="#00FFFF"/><circle cx="593.1" cy="93.1" r="2.4" fill="#FFFFFF"/><circle cx="597.5" cy="93.6" r="2.4" fill="#00FFFF"/><circle cx="600.5" cy="90.9" r="2.4" fill="#00FFFF"/><circle cx="604" cy="91.8" r="2.4" fill="#FFFFFF"/><circle cx="604" cy="95.8" r="2.4" fill="#00FFFF"/><circle cx="610.2" cy="95.8" r="2.4" fill="#00FFFF"/><circle cx="611.9" cy="90.1" r="2.4" fill="#00FFFF"/><circle cx="590.9" cy="98" r="2.4" fill="#FFFFFF"/><circle cx="595.3" cy="97.1" r="2.4" fill="#FFFFFF"/><circle cx="596.6" cy="101.5" r="2.4" fill="#00FFFF"/><circle cx="600.5" cy="102.3" r="2.4" fill="#00FFFF"/><circle cx="605.4" cy="100.6" r="2.4" fill="#00FFFF"/><circle cx="610.2" cy="102.8" r="2.4" fill="#00FFFF"/><circle cx="592.2" cy="101.5" r="2.4" fill="#FFFFFF"/><circle cx="587.4" cy="103.2" r="2.4" fill="#00FFFF"/><circle cx="583.9" cy="102.3" r="2.4" fill="#00FFFF"/><circle cx="590" cy="105.4" r="2.4" fill="#00FFFF"/><circle cx="602.3" cy="108" r="2.4" fill="#00FFFF"/><circle cx="608.4" cy="108.9" r="2.4" fill="#00FFFF"/><circle cx="580.4" cy="112.8" r="2.4" fill="#FFFFFF"/><circle cx="584.8" cy="112" r="2.4" fill="#00FFFF"/><circle cx="590.9" cy="109.8" r="2.4" fill="#00FFFF"/><circle cx="592.7" cy="113.3" r="2.4" fill="#00FFFF"/><circle cx="597" cy="111.5" r="2.4" fill="#00FFFF"/><circle cx="602.7" cy="112.4" r="2.4" fill="#00FFFF"/><circle cx="581.3" cy="116.8" r="2.4" fill="#FFFFFF"/><circle cx="586.1" cy="119.4" r="2.4" fill="#00FFFF"/><circle cx="590" cy="115.9" r="2.4" fill="#00FFFF"/><circle cx="596.2" cy="117.7" r="2.4" fill="#00FFFF"/><circle cx="600.5" cy="117.7" r="2.4" fill="#00FFFF"/><circle cx="603.2" cy="115.9" r="2.4" fill="#FFFFFF"/><circle cx="582.1" cy="121.2" r="2.4" fill="#FFFFFF"/><circle cx="586.5" cy="122.9" r="2.4" fill="#00FFFF"/><circle cx="591.8" cy="122" r="2.4" fill="#00FFFF"/><circle cx="597" cy="123.8" r="2.4" fill="#FFFFFF"/><circle cx="602.3" cy="122.9" r="2.4" fill="#00FFFF"/><circle cx="612.8" cy="116.8" r="2.4" fill="#00FFFF"/><circle cx="561.6" cy="114.1" r="2.4" fill="#FFFFFF"/><circle cx="565.5" cy="115.9" r="2.4" fill="#FFFFFF"/><circle cx="558.9" cy="119.4" r="2.4" fill="#00FFFF"/><circle cx="563.8" cy="121.2" r="2.4" fill="#FFFFFF"/><circle cx="556.8" cy="115" r="2.4" fill="#00FFFF"/><circle cx="539.7" cy="106.6" r="2.4" fill="#00FFFF"/><circle cx="547.9" cy="110.2" r="2.4" fill="#00FFFF"/><circle cx="521.9" cy="118.9" r="2.4" fill="#00FFFF"/><circle cx="524.4" cy="124" r="2.4" fill="#00FFFF"/><circle cx="532.1" cy="117.9" r="2.4" fill="#00FFFF"/><circle cx="535.1" cy="119.4" r="2.4" fill="#00FFFF"/><circle cx="540.3" cy="122" r="2.4" fill="#00FFFF"/><circle cx="542.3" cy="118.9" r="2.4" fill="#00FFFF"/><circle cx="546.9" cy="115.8" r="2.4" fill="#00FFFF"/><circle cx="551.5" cy="117.9" r="2.4" fill="#FFFFFF"/><circle cx="559.7" cy="117.4" r="2.4" fill="#00FFFF"/><circle cx="564.3" cy="118.9" r="2.4" fill="#FFFFFF"/><circle cx="530.5" cy="128.6" r="2.4" fill="#00FFFF"/><circle cx="534.4" cy="124.8" r="2.4" fill="#00FFFF"/><circle cx="536.9" cy="130.7" r="2.4" fill="#00FFFF"/><circle cx="546.9" cy="124.5" r="2.4" fill="#00FFFF"/><circle cx="551" cy="122" r="2.4" fill="#00FFFF"/><circle cx="555.1" cy="121.5" r="2.4" fill="#00FFFF"/><circle cx="559.2" cy="123.5" r="2.4" fill="#00FFFF"/><circle cx="562.7" cy="124.5" r="2.4" fill="#FFFFFF"/><circle cx="544.9" cy="127.6" r="2.4" fill="#FFFFFF"/><circle cx="550.5" cy="127.6" r="2.4" fill="#00FFFF"/><circle cx="553.5" cy="125" r="2.4" fill="#FFFFFF"/><circle cx="558.1" cy="127.6" r="2.4" fill="#00FFFF"/><circle cx="547.9" cy="129.6" r="2.4" fill="#00FFFF"/><circle cx="562.2" cy="129.6" r="2.4" fill="#FFFFFF"/><circle cx="561.7" cy="132.7" r="2.4" fill="#FFFFFF"/><circle cx="553.5" cy="132.7" r="2.4" fill="#00FFFF"/><circle cx="542.3" cy="147.5" r="2.4" fill="#FFFFFF"/><circle cx="532.4" cy="152.9" r="2.4" fill="#00FFFF"/><circle cx="552.2" cy="154.2" r="2.4" fill="#FFFFFF"/><circle cx="609.5" cy="63.5" r="2.4" fill="#FFFFFF"/><circle cx="628.2" cy="72.4" r="2.4" fill="#00FFFF"/><circle cx="625.6" cy="81.4" r="2.4" fill="#FFFFFF"/><circle cx="615.9" cy="96.3" r="2.4" fill="#00FFFF"/><circle cx="622.7" cy="94.3" r="2.4" fill="#00FFFF"/><circle cx="605.6" cy="91.4" r="2.4" fill="#FFFFFF"/><circle cx="628.2" cy="100.7" r="2.4" fill="#00FFFF"/><circle cx="632.7" cy="103" r="2.4" fill="#00FFFF"/><circle cx="639.1" cy="105" r="2.4" fill="#00FFFF"/><circle cx="624.9" cy="106.9" r="2.4" fill="#00FFFF"/><circle cx="615.9" cy="106.9" r="2.4" fill="#00FFFF"/><circle cx="662.8" cy="120.5" r="2.4" fill="#00FFFF"/><circle cx="645.5" cy="123.7" r="2.4" fill="#00FFFF"/><circle cx="631.1" cy="129.2" r="2.4" fill="#00FFFF"/><circle cx="613.5" cy="143.9" r="2.4" fill="#FFFFFF"/><circle cx="617.5" cy="158.4" r="2.4" fill="#00FFFF"/><circle cx="603.4" cy="133.8" r="2.4" fill="#00FFFF"/><circle cx="604.8" cy="127" r="2.4" fill="#00FFFF"/><circle cx="611" cy="129.2" r="2.4" fill="#00FFFF"/><circle cx="607.6" cy="129.4" r="2.4" fill="#FFFFFF"/><circle cx="601.4" cy="126" r="2.4" fill="#00FFFF"/><circle cx="602.1" cy="118.4" r="2.4" fill="#00FFFF"/><circle cx="615.2" cy="116.4" r="2.4" fill="#00FFFF"/><circle cx="617.2" cy="114" r="2.4" fill="#00FFFF"/><circle cx="614.9" cy="119.5" r="2.4" fill="#00FFFF"/><circle cx="610.3" cy="108.8" r="2.4" fill="#00FFFF"/><circle cx="582.1" cy="118.7" r="2.4" fill="#FFFFFF"/><circle cx="596.8" cy="121.9" r="2.4" fill="#FFFFFF"/><circle cx="600.4" cy="121.9" r="2.4" fill="#FFFFFF"/><circle cx="582.1" cy="126.5" r="2.4" fill="#FFFFFF"/><circle cx="582.1" cy="129.2" r="2.4" fill="#FFFFFF"/><circle cx="591.7" cy="126.9" r="2.4" fill="#FFFFFF"/><circle cx="594.5" cy="124.2" r="2.4" fill="#00FFFF"/><circle cx="586.2" cy="131.5" r="2.4" fill="#00FFFF"/><circle cx="591.3" cy="133.4" r="2.4" fill="#00FFFF"/><circle cx="594.7" cy="131.4" r="2.4" fill="#00FFFF"/><circle cx="560.9" cy="121.9" r="2.4" fill="#00FFFF"/><circle cx="568.3" cy="117.8" r="2.4" fill="#FFFFFF"/><circle cx="557.2" cy="96.6" r="2.4" fill="#00FFFF"/><circle cx="555.9" cy="107.9" r="2.4" fill="#00FFFF"/><circle cx="542.3" cy="115.2" r="2.4" fill="#00FFFF"/><circle cx="544" cy="119.1" r="2.4" fill="#00FFFF"/><circle cx="547.9" cy="121.1" r="2.4" fill="#FFFFFF"/><circle cx="559.2" cy="121.8" r="2.4" fill="#00FFFF"/><circle cx="566.5" cy="118.5" r="2.4" fill="#FFFFFF"/><circle cx="536.7" cy="117.1" r="2.4" fill="#00FFFF"/><circle cx="590.2" cy="70.4" r="2.4" fill="#00FFFF"/><circle cx="588.4" cy="90.4" r="2.4" fill="#00FFFF"/><circle cx="586.1" cy="96" r="2.4" fill="#FFFFFF"/><circle cx="589.3" cy="95" r="2.4" fill="#00FFFF"/><circle cx="525.9" cy="175.3" r="2.4" fill="#00FFFF"/><circle cx="550" cy="206.4" r="2.4" fill="#00FFFF"/><circle cx="510.5" cy="230.4" r="2.4" fill="#00FFFF"/></g>
<line x1="385.1" y1="131.6" x2="669.7" y2="99.1" stroke="#000" stroke-width="2.0"/>
<line x1="385.1" y1="130.9" x2="669.7" y2="99.8" stroke="#FF0000" stroke-width="2.0"/>
<line x1="385.1" y1="124.8" x2="669.7" y2="103" stroke="#FFA500" stroke-width="1.8"/>
<path d="M370.8 12V251.7" stroke="#6A6A6A" stroke-width="1.1" fill="none"/>
<path d="M370.3 251.2H684.5" stroke="#8A8A8A" stroke-width="1.2" fill="none"/>
<text transform="translate(427.1 258.8) scale(1 1.2)" text-anchor="middle" font-size="6.1" fill="#4A4A4A" stroke="#4A4A4A" stroke-width="0.1">−0.2</text>
<text transform="translate(499.8 258.8) scale(1 1.2)" text-anchor="middle" font-size="6.1" fill="#4A4A4A" stroke="#4A4A4A" stroke-width="0.1">−0.1</text>
<text transform="translate(572.5 258.8) scale(1 1.2)" text-anchor="middle" font-size="6.1" fill="#4A4A4A" stroke="#4A4A4A" stroke-width="0.1">0.0</text>
<text transform="translate(645.2 258.8) scale(1 1.2)" text-anchor="middle" font-size="6.1" fill="#4A4A4A" stroke="#4A4A4A" stroke-width="0.1">0.1</text>
<text transform="translate(367.4 51.8) scale(1 1.2)" text-anchor="end" font-size="6.1" fill="#4A4A4A" stroke="#4A4A4A" stroke-width="0.1">0.2</text>
<text transform="translate(367.4 113) scale(1 1.2)" text-anchor="end" font-size="6.1" fill="#4A4A4A" stroke="#4A4A4A" stroke-width="0.1">0.0</text>
<text transform="translate(367.4 174.2) scale(1 1.2)" text-anchor="end" font-size="6.1" fill="#4A4A4A" stroke="#4A4A4A" stroke-width="0.1">−0.2</text>
<text transform="translate(367.4 235.4) scale(1 1.2)" text-anchor="end" font-size="6.1" fill="#4A4A4A" stroke="#4A4A4A" stroke-width="0.1">−0.4</text>
<text x="380" y="6.9" font-size="8.95" style="font-weight:bold">Genetic association between MPB and SCC in the UK Biobank cohort</text>
<text x="378.2" y="45.5" font-size="8.83">with outlier :beta_IVW= 0.26 , <tspan font-style="italic">p</tspan> = 1.33e−04</text>
<text x="378.2" y="57.9" font-size="8.83">exc. outlier :beta_IVW= 0.16 , <tspan font-style="italic">p</tspan> = 2.85e−03</text>
<text x="527.6" y="266.8" text-anchor="middle" font-size="7.65" style="font-weight:bold">SNP effect on standardized MPB score</text>
<text transform="translate(352.3 131.7) rotate(-90)" text-anchor="middle" font-size="7.62" style="font-weight:bold">SNP estimate for log(OR) on SCC</text>
<text x="559" y="104.5" font-size="7" fill="#111">rs3847069</text>
<text x="561" y="106.5" font-size="7" fill="#111">rs3669871</text>
<text x="554.2" y="203.3" font-size="7" fill="#111">rs1805007</text>
<text x="514" y="227.8" font-size="7" fill="#111">rs12203592</text>
<line x1="45.2" y1="288.3" x2="45.2" y2="526.6" stroke="#EBEBEB" stroke-width="0.5"/>
<line x1="118" y1="288.3" x2="118" y2="526.6" stroke="#EBEBEB" stroke-width="0.5"/>
<line x1="190.8" y1="288.3" x2="190.8" y2="526.6" stroke="#EBEBEB" stroke-width="0.5"/>
<line x1="263.6" y1="288.3" x2="263.6" y2="526.6" stroke="#EBEBEB" stroke-width="0.5"/>
<line x1="336.4" y1="288.3" x2="336.4" y2="526.6" stroke="#EBEBEB" stroke-width="0.5"/>
<line x1="25.6" y1="307.1" x2="339" y2="307.1" stroke="#EBEBEB" stroke-width="0.5"/>
<line x1="25.6" y1="347.7" x2="339" y2="347.7" stroke="#EBEBEB" stroke-width="0.5"/>
<line x1="25.6" y1="388.3" x2="339" y2="388.3" stroke="#EBEBEB" stroke-width="0.5"/>
<line x1="25.6" y1="428.9" x2="339" y2="428.9" stroke="#EBEBEB" stroke-width="0.5"/>
<line x1="25.6" y1="469.5" x2="339" y2="469.5" stroke="#EBEBEB" stroke-width="0.5"/>
<line x1="25.6" y1="510.1" x2="339" y2="510.1" stroke="#EBEBEB" stroke-width="0.5"/>
<line x1="81.6" y1="288.3" x2="81.6" y2="526.6" stroke="#EBEBEB" stroke-width="0.9"/>
<line x1="154.4" y1="288.3" x2="154.4" y2="526.6" stroke="#EBEBEB" stroke-width="0.9"/>
<line x1="227.2" y1="288.3" x2="227.2" y2="526.6" stroke="#EBEBEB" stroke-width="0.9"/>
<line x1="300" y1="288.3" x2="300" y2="526.6" stroke="#EBEBEB" stroke-width="0.9"/>
<line x1="25.6" y1="327.4" x2="339" y2="327.4" stroke="#EBEBEB" stroke-width="0.9"/>
<line x1="25.6" y1="368" x2="339" y2="368" stroke="#EBEBEB" stroke-width="0.9"/>
<line x1="25.6" y1="408.6" x2="339" y2="408.6" stroke="#EBEBEB" stroke-width="0.9"/>
<line x1="25.6" y1="449.2" x2="339" y2="449.2" stroke="#EBEBEB" stroke-width="0.9"/>
<line x1="25.6" y1="489.8" x2="339" y2="489.8" stroke="#EBEBEB" stroke-width="0.9"/>
<line x1="25.6" y1="368" x2="339" y2="368" stroke="#8A8A8A" stroke-width="1.4" stroke-dasharray="3.1 2.4"/>
<line x1="227.2" y1="289.8" x2="227.2" y2="526.6" stroke="#5A5A5A" stroke-width="1.0" stroke-dasharray="3 2.5"/>
<path d="M39.8 339.5H65.6M52.5 312.7V365.2M118.1 354.5H137.3M127.5 334.2V373.6M136.07 364.5H144.73M140.5 347.3V380.8M147.39 364.5H153.41M150.5 353.29V374.71M160.99 364.5H169.81M165.5 355.7V376.48M156.41 369.5H163.39M159.5 346.21V392.79M150.57 374.5H158.23M154.5 350.9V393.9M168.01 366.5H180.59M174.5 352.69V380.11M106.2 394.5H125.3M115.5 378.4V413M161.71 396.5H171.49M166.5 383.1V410.6M167.62 385.5H180.98M174.5 371.54V399.46M178.9 329.5H196.8M187.5 318.31V340.49M195.78 331.5H207.8M198.5 313.7V353.35M203.15 335.5H215.65M209.5 328.1V350.17M168.2 338.5H185.2M176.5 318.63V359.17M182.75 345.5H189.25M186.5 337.24V354.36M180.57 353.5H188.63M184.5 330.28V375.72M195.41 348.5H208.59M202.5 328.24V368.16M203.21 349.5H211.39M207.5 336.37V363.23M208.93 345.5H219.87M214.5 322.48V369.12M203.73 353.5H215.47M209.5 341.21V365.59M210.1 355.5H218.3M214.5 342.24V368.36M190.28 358.5H202.32M196.5 350.44V366.56M197.16 357.5H208.24M202.5 334.94V380.26M203.7 356.5H209.9M206.5 333.61V379.79M196.9 360.5H206.7M201.5 349.06V372.54M199.58 360.5H213.22M206.5 336.99V383.61M207 361.5H215M211.5 347.52V375.88M211.53 357.5H221.47M216.5 342.72V372.48M215.47 360.5H222.93M219.5 337.45V383.15M209.55 363.5H221.45M215.5 342.26V383.94M214.01 364.5H226.19M220.5 343.74V386.06M192.39 362.5H201.01M196.5 344.88V380.32M189.05 365.5H197.95M193.5 352.29V378.51M186.08 364.5H192.72M189.5 344.38V385.42M194.39 365.5H206.41M200.5 354.64V376.96M204.04 364.5H210.56M207.5 352.54V376.46M205.79 366.5H216.21M211.5 358.26V375.34M172.28 364.5H186.12M179.5 351.69V378.11M179.15 366.5H193.05M186.5 344.66V388.94M186.46 368.5H193.14M189.5 356.36V380.84M178.41 373.5H188.39M183.5 364.16V383.24M182.71 374.5H192.29M187.5 354.74V393.46M189.73 373.5H199.07M194.5 361.45V384.95M193.3 372.5H204.7M199.5 354.38V390.22M199.01 375.5H211.79M205.5 355.03V394.97M206.52 373.5H213.48M210.5 354.57V391.83M210.02 376.5H218.38M214.5 354.55V397.45M213.81 373.5H222.79M218.5 356.13V390.27M217.3 377.5H224.9M221.5 357.99V397.61M173.02 377.5H180.98M177.5 365.34V389.26M178.66 378.5H191.74M185.5 368.25V389.15M190.99 377.5H199.61M195.5 360.55V395.05M194.33 377.5H208.27M201.5 362.96V391.64M204.27 378.5H212.13M208.5 362.18V394.42M207.19 378.5H218.41M212.5 357.76V399.64M213.99 378.5H220.81M217.5 354.84V402.56M178.92 380.5H191.48M185.5 365.1V396.3M185.04 382.5H198.36M191.5 360.75V403.65M172.33 385.5H180.67M176.5 376.65V393.95M192.04 383.5H199.56M195.5 373.79V393.61M192.77 379.5H203.43M198.5 356.03V403.17M196.31 381.5H205.29M200.5 359.02V404.78M195.6 385.5H205.2M200.5 363.74V407.46M198.39 386.5H210.61M204.5 373.84V398.16M205.68 382.5H212.52M209.5 359.27V405.53M205.02 378.5H215.98M210.5 360.96V396.04M208.33 387.5H217.27M212.5 375.52V398.48M212.68 388.5H220.32M216.5 378.54V399.06M209.7 384.5H220.5M215.5 372.12V396.28M213.09 380.5H220.71M216.5 362.07V398.93M195.59 389.5H204.21M199.5 381.52V397.88M203.36 391.5H210.84M207.5 372.85V410.55M200.8 396.5H218.3M209.5 383.4V415M178.8 394.5H195.3M186.5 373.38V412.7M172.4 402.5H185.2M178.5 393.39V415.4M245.3 339.5H255.7M250.5 325.38V354.02M241.14 343.5H247.86M244.5 325.37V361.83M253.02 343.5H264.58M258.5 332.68V353.92M240.87 345.5H249.13M245.5 331.24V360.36M251.99 345.5H265.61M258.5 332.68V358.52M242.93 349.5H253.47M248.5 336.8V362.8M238.03 352.5H247.37M242.5 338.39V365.81M232.01 351.5H245.99M239.5 329.77V373.43M247.21 352.5H254.79M251.5 338.68V366.32M241.19 355.5H248.81M245.5 336.05V375.35M234.29 357.5H247.51M240.5 349.51V365.69M228.62 358.5H241.18M234.5 343.72V373.28M248.17 357.5H261.23M254.5 342.6V371.6M257.85 354.5H265.15M261.5 339.43V370.17M266.69 356.5H277.11M271.5 348.26V364.74M270.76 355.5H284.04M277.5 336.75V373.25M278.11 353.5H289.09M283.5 344.28V363.12M281.78 352.5H291.82M286.5 338.17V366.03M261.57 359.5H269.83M265.5 348.67V369.33M253 359.5H266.4M259.5 343.56V376.24M249.74 361.5H259.66M254.5 351.56V371.04M242.23 360.5H255.97M249.5 339.92V381.68M240.99 361.5H248.01M244.5 350.14V372.46M230.3 361.5H244.1M237.5 338.61V384.79M230.29 362.5H236.71M233.5 346.48V377.92M240.95 363.5H250.05M245.5 340.68V386.32M245.52 364.5H256.48M251.5 341.53V386.47M251.96 364.5H259.24M255.5 343.31V385.69M236.11 365.5H243.89M240.5 344.83V385.97M262.01 362.5H274.79M268.5 348.13V377.07M261.07 368.5H268.53M264.5 346.83V389.37M265.2 370.5H274.4M269.5 358.91V381.89M274.97 369.5H284.03M279.5 353.21V385.79M278.71 371.5H286.69M282.5 361.83V381.77M226.91 370.5H240.09M233.5 350.8V390M235.65 370.5H246.15M240.5 361.74V379.06M243.25 370.5H249.55M246.5 350.28V390.52M248.43 371.5H255.37M251.5 349.99V392.81M252.2 370.5H262.6M257.5 352.81V387.99M258.68 372.5H267.12M262.5 354.67V390.73M230.97 374.5H241.63M236.5 359.38V388.82M236.16 375.5H247.44M241.5 360.69V390.31M244.35 373.5H253.85M249.5 358.55V388.85M250.12 375.5H261.08M255.5 366.63V383.37M261.76 376.5H269.64M265.5 360.57V392.23M266.48 378.5H278.72M272.5 358.48V398.92M276.68 376.5H284.12M280.5 361.07V391.73M237.47 378.5H244.33M240.5 362.73V393.87M246.28 378.5H255.72M251.5 368.24V388.36M253.53 377.5H263.07M258.5 368.33V387.27M240.44 382.5H246.76M243.5 366.04V398.36M236.67 385.5H243.33M240.5 366.92V403.28M242.59 383.5H254.81M248.5 363.56V403.04M249.38 386.5H255.82M252.5 370.32V402.68M252.69 383.5H261.71M257.5 367.44V399.56M245.56 391.5H252.64M249.5 367.89V414.31M255.52 386.5H269.48M262.5 364.79V408.21M259.44 380.5H271.96M265.5 360.79V400.21M263.37 381.5H277.23M270.5 370.2V392.4M263.67 385.5H277.33M270.5 369.93V401.67M252.84 397.5H260.16M256.5 374.84V420.16M258.78 396.5H272.22M265.5 375.99V417.21M268 394.5H280.4M272.5 385.25V403.35M244.5 404.5H258.3M251.5 384.1V419.1M271.5 322.5H293.9M282.5 300V346M310.4 338.5H324.7M317.5 323.9V352.4M280.82 364.5H294.18M287.5 348.66V380.74M296.25 367.5H304.35M300.5 356.07V378.73M287.72 374.5H296.28M292.5 358.3V390.5M289.77 381.5H297.23M293.5 373.21V396.5M171.1 430.5H190.9M180.5 415V450.6M197.92 487.5H211.08M204.5 478.2V495.4M158.76 509.5H171.04M164.5 503.4V515M208.08 359.5H218.32M213.5 349.46V369.14M216.06 363.5H224.94M220.5 345.02V381.38M188.08 361.5H198.52M193.5 339.93V383.87M213.97 366.5H227.03M220.5 349.32V383.88M214.83 370.5H228.77M221.5 360.83V380.17M187.42 374.5H196.58M192.5 356.42V392.58M199.14 372.5H207.26M203.5 351.74V393.26M200.59 380.5H211.21M205.5 356.65V404.35M205.84 380.5H217.96M211.5 366.74V394.26M217.39 383.5H224.81M221.5 368.02V398.18M240.71 350.5H247.09M243.5 330.1V369.9M245.89 355.5H253.91M249.5 334.78V377.02M255.56 363.5H269.44M262.5 345.67V382.13M238.95 371.5H250.25M244.5 354.13V388.87M244.19 373.5H250.21M247.5 360.5V386.5M245.6 376.5H252.8M249.5 367.56V384.64M240.47 379.5H249.93M245.5 361.54V397.26" stroke="#D2D2D2" stroke-width="0.9" fill="none"/>
<g stroke="#1f1f1f" stroke-width="0.62"><circle cx="52.5" cy="339" r="2.4" fill="#00FFFF"/><circle cx="127.7" cy="354.5" r="2.4" fill="#00FFFF"/><circle cx="140.4" cy="364" r="2.4" fill="#00FFFF"/><circle cx="150.4" cy="364" r="2.4" fill="#00FFFF"/><circle cx="165.4" cy="364" r="2.4" fill="#00FFFF"/><circle cx="159.9" cy="369.5" r="2.4" fill="#00FFFF"/><circle cx="154.4" cy="374.8" r="2.4" fill="#00FFFF"/><circle cx="174.3" cy="366.4" r="2.4" fill="#00FFFF"/><circle cx="115" cy="394.4" r="2.4" fill="#00FFFF"/><circle cx="166.6" cy="396.8" r="2.4" fill="#00FFFF"/><circle cx="174.3" cy="385.5" r="2.4" fill="#00FFFF"/><circle cx="187.8" cy="329.4" r="2.4" fill="#00FFFF"/><circle cx="198.9" cy="331" r="2.4" fill="#FFFFFF"/><circle cx="209.4" cy="335.6" r="2.4" fill="#00FFFF"/><circle cx="176.9" cy="338.9" r="2.4" fill="#00FFFF"/><circle cx="186" cy="345.8" r="2.4" fill="#00FFFF"/><circle cx="184.6" cy="353" r="2.4" fill="#00FFFF"/><circle cx="202" cy="348.2" r="2.4" fill="#00FFFF"/><circle cx="207.3" cy="349.8" r="2.4" fill="#00FFFF"/><circle cx="214.4" cy="345.8" r="2.4" fill="#00FFFF"/><circle cx="209.6" cy="353.4" r="2.4" fill="#00FFFF"/><circle cx="214.2" cy="355.3" r="2.4" fill="#00FFFF"/><circle cx="196.3" cy="358.5" r="2.4" fill="#00FFFF"/><circle cx="202.7" cy="357.6" r="2.4" fill="#00FFFF"/><circle cx="206.8" cy="356.7" r="2.4" fill="#00FFFF"/><circle cx="201.8" cy="360.8" r="2.4" fill="#00FFFF"/><circle cx="206.4" cy="360.3" r="2.4" fill="#00FFFF"/><circle cx="211" cy="361.7" r="2.4" fill="#00FFFF"/><circle cx="216.5" cy="357.6" r="2.4" fill="#FFFFFF"/><circle cx="219.2" cy="360.3" r="2.4" fill="#FFFFFF"/><circle cx="215.5" cy="363.1" r="2.4" fill="#FFFFFF"/><circle cx="220.1" cy="364.9" r="2.4" fill="#FFFFFF"/><circle cx="196.7" cy="362.6" r="2.4" fill="#FFFFFF"/><circle cx="193.5" cy="365.4" r="2.4" fill="#00FFFF"/><circle cx="189.4" cy="364.9" r="2.4" fill="#00FFFF"/><circle cx="200.4" cy="365.8" r="2.4" fill="#00FFFF"/><circle cx="207.3" cy="364.5" r="2.4" fill="#FFFFFF"/><circle cx="211" cy="366.8" r="2.4" fill="#00FFFF"/><circle cx="179.2" cy="364.9" r="2.4" fill="#00FFFF"/><circle cx="186.1" cy="366.8" r="2.4" fill="#00FFFF"/><circle cx="189.8" cy="368.6" r="2.4" fill="#00FFFF"/><circle cx="183.4" cy="373.7" r="2.4" fill="#00FFFF"/><circle cx="187.5" cy="374.1" r="2.4" fill="#00FFFF"/><circle cx="194.4" cy="373.2" r="2.4" fill="#00FFFF"/><circle cx="199" cy="372.3" r="2.4" fill="#FFFFFF"/><circle cx="205.4" cy="375" r="2.4" fill="#00FFFF"/><circle cx="210" cy="373.2" r="2.4" fill="#00FFFF"/><circle cx="214.2" cy="376" r="2.4" fill="#00FFFF"/><circle cx="218.3" cy="373.2" r="2.4" fill="#FFFFFF"/><circle cx="221.1" cy="377.8" r="2.4" fill="#FFFFFF"/><circle cx="177" cy="377.3" r="2.4" fill="#00FFFF"/><circle cx="185.2" cy="378.7" r="2.4" fill="#00FFFF"/><circle cx="195.3" cy="377.8" r="2.4" fill="#00FFFF"/><circle cx="201.3" cy="377.3" r="2.4" fill="#00FFFF"/><circle cx="208.2" cy="378.3" r="2.4" fill="#00FFFF"/><circle cx="212.8" cy="378.7" r="2.4" fill="#00FFFF"/><circle cx="217.4" cy="378.7" r="2.4" fill="#FFFFFF"/><circle cx="185.2" cy="380.7" r="2.4" fill="#00FFFF"/><circle cx="191.7" cy="382.2" r="2.4" fill="#00FFFF"/><circle cx="176.5" cy="385.3" r="2.4" fill="#00FFFF"/><circle cx="195.8" cy="383.7" r="2.4" fill="#FFFFFF"/><circle cx="198.1" cy="379.6" r="2.4" fill="#00FFFF"/><circle cx="200.8" cy="381.9" r="2.4" fill="#00FFFF"/><circle cx="200.4" cy="385.6" r="2.4" fill="#FFFFFF"/><circle cx="204.5" cy="386" r="2.4" fill="#00FFFF"/><circle cx="209.1" cy="382.4" r="2.4" fill="#00FFFF"/><circle cx="210.5" cy="378.5" r="2.4" fill="#00FFFF"/><circle cx="212.8" cy="387" r="2.4" fill="#00FFFF"/><circle cx="216.5" cy="388.8" r="2.4" fill="#FFFFFF"/><circle cx="215.1" cy="384.2" r="2.4" fill="#FFFFFF"/><circle cx="216.9" cy="380.5" r="2.4" fill="#FFFFFF"/><circle cx="199.9" cy="389.7" r="2.4" fill="#FFFFFF"/><circle cx="207.1" cy="391.7" r="2.4" fill="#FFFFFF"/><circle cx="209.4" cy="396.4" r="2.4" fill="#FFFFFF"/><circle cx="186.9" cy="394.1" r="2.4" fill="#00FFFF"/><circle cx="178.8" cy="402.4" r="2.4" fill="#00FFFF"/><circle cx="250.5" cy="339.7" r="2.4" fill="#FFFFFF"/><circle cx="244.5" cy="343.6" r="2.4" fill="#FFFFFF"/><circle cx="258.8" cy="343.3" r="2.4" fill="#FFFFFF"/><circle cx="245" cy="345.8" r="2.4" fill="#00FFFF"/><circle cx="258.8" cy="345.6" r="2.4" fill="#00FFFF"/><circle cx="248.2" cy="349.8" r="2.4" fill="#FFFFFF"/><circle cx="242.7" cy="352.1" r="2.4" fill="#FFFFFF"/><circle cx="239" cy="351.6" r="2.4" fill="#FFFFFF"/><circle cx="251" cy="352.5" r="2.4" fill="#00FFFF"/><circle cx="245" cy="355.7" r="2.4" fill="#00FFFF"/><circle cx="240.9" cy="357.6" r="2.4" fill="#00FFFF"/><circle cx="234.9" cy="358.5" r="2.4" fill="#FFFFFF"/><circle cx="254.7" cy="357.1" r="2.4" fill="#00FFFF"/><circle cx="261.5" cy="354.8" r="2.4" fill="#00FFFF"/><circle cx="271.9" cy="356.5" r="2.4" fill="#00FFFF"/><circle cx="277.4" cy="355" r="2.4" fill="#00FFFF"/><circle cx="283.6" cy="353.7" r="2.4" fill="#FFFFFF"/><circle cx="286.8" cy="352.1" r="2.4" fill="#00FFFF"/><circle cx="265.7" cy="359" r="2.4" fill="#00FFFF"/><circle cx="259.7" cy="359.9" r="2.4" fill="#00FFFF"/><circle cx="254.7" cy="361.3" r="2.4" fill="#00FFFF"/><circle cx="249.1" cy="360.8" r="2.4" fill="#00FFFF"/><circle cx="244.5" cy="361.3" r="2.4" fill="#00FFFF"/><circle cx="237.2" cy="361.7" r="2.4" fill="#FFFFFF"/><circle cx="233.5" cy="362.2" r="2.4" fill="#FFFFFF"/><circle cx="245.5" cy="363.5" r="2.4" fill="#00FFFF"/><circle cx="251" cy="364" r="2.4" fill="#00FFFF"/><circle cx="255.6" cy="364.5" r="2.4" fill="#00FFFF"/><circle cx="240" cy="365.4" r="2.4" fill="#00FFFF"/><circle cx="268.4" cy="362.6" r="2.4" fill="#FFFFFF"/><circle cx="264.8" cy="368.1" r="2.4" fill="#00FFFF"/><circle cx="269.8" cy="370.4" r="2.4" fill="#00FFFF"/><circle cx="279.5" cy="369.5" r="2.4" fill="#00FFFF"/><circle cx="282.7" cy="371.8" r="2.4" fill="#00FFFF"/><circle cx="233.5" cy="370.4" r="2.4" fill="#FFFFFF"/><circle cx="240.9" cy="370.4" r="2.4" fill="#00FFFF"/><circle cx="246.4" cy="370.4" r="2.4" fill="#00FFFF"/><circle cx="251.9" cy="371.4" r="2.4" fill="#00FFFF"/><circle cx="257.4" cy="370.4" r="2.4" fill="#00FFFF"/><circle cx="262.9" cy="372.7" r="2.4" fill="#00FFFF"/><circle cx="236.3" cy="374.1" r="2.4" fill="#FFFFFF"/><circle cx="241.8" cy="375.5" r="2.4" fill="#00FFFF"/><circle cx="249.1" cy="373.7" r="2.4" fill="#00FFFF"/><circle cx="255.6" cy="375" r="2.4" fill="#00FFFF"/><circle cx="265.7" cy="376.4" r="2.4" fill="#00FFFF"/><circle cx="272.6" cy="378.7" r="2.4" fill="#00FFFF"/><circle cx="280.4" cy="376.4" r="2.4" fill="#FFFFFF"/><circle cx="240.9" cy="378.3" r="2.4" fill="#00FFFF"/><circle cx="251" cy="378.3" r="2.4" fill="#FFFFFF"/><circle cx="258.3" cy="377.8" r="2.4" fill="#00FFFF"/><circle cx="243.6" cy="382.2" r="2.4" fill="#00FFFF"/><circle cx="240" cy="385.1" r="2.4" fill="#00FFFF"/><circle cx="248.7" cy="383.3" r="2.4" fill="#00FFFF"/><circle cx="252.6" cy="386.5" r="2.4" fill="#00FFFF"/><circle cx="257.2" cy="383.5" r="2.4" fill="#00FFFF"/><circle cx="249.1" cy="391.1" r="2.4" fill="#FFFFFF"/><circle cx="262.5" cy="386.5" r="2.4" fill="#FFFFFF"/><circle cx="265.7" cy="380.5" r="2.4" fill="#00FFFF"/><circle cx="270.3" cy="381.3" r="2.4" fill="#00FFFF"/><circle cx="270.5" cy="385.8" r="2.4" fill="#00FFFF"/><circle cx="256.5" cy="397.5" r="2.4" fill="#00FFFF"/><circle cx="265.5" cy="396.6" r="2.4" fill="#00FFFF"/><circle cx="272.4" cy="394.3" r="2.4" fill="#00FFFF"/><circle cx="251.4" cy="404.2" r="2.4" fill="#FFFFFF"/><circle cx="282.5" cy="322.6" r="2.4" fill="#00FFFF"/><circle cx="317.4" cy="338.2" r="2.4" fill="#00FFFF"/><circle cx="287.5" cy="364.7" r="2.4" fill="#00FFFF"/><circle cx="300.3" cy="367.4" r="2.4" fill="#00FFFF"/><circle cx="292" cy="374.4" r="2.4" fill="#00FFFF"/><circle cx="293.5" cy="381.8" r="2.4" fill="#00FFFF"/><circle cx="180.6" cy="430.6" r="2.4" fill="#00FFFF"/><circle cx="204.5" cy="487.4" r="2.4" fill="#00FFFF"/><circle cx="164.9" cy="509.2" r="2.4" fill="#00FFFF"/><circle cx="213.2" cy="359.3" r="2.4" fill="#00FFFF"/><circle cx="220.5" cy="363.2" r="2.4" fill="#FFFFFF"/><circle cx="193.3" cy="361.9" r="2.4" fill="#00FFFF"/><circle cx="220.5" cy="366.6" r="2.4" fill="#FFFFFF"/><circle cx="221.8" cy="370.5" r="2.4" fill="#FFFFFF"/><circle cx="192" cy="374.5" r="2.4" fill="#00FFFF"/><circle cx="203.2" cy="372.5" r="2.4" fill="#00FFFF"/><circle cx="205.9" cy="380.5" r="2.4" fill="#00FFFF"/><circle cx="211.9" cy="380.5" r="2.4" fill="#00FFFF"/><circle cx="221.1" cy="383.1" r="2.4" fill="#FFFFFF"/><circle cx="243.9" cy="350" r="2.4" fill="#00FFFF"/><circle cx="249.9" cy="355.9" r="2.4" fill="#00FFFF"/><circle cx="262.5" cy="363.9" r="2.4" fill="#00FFFF"/><circle cx="244.6" cy="371.5" r="2.4" fill="#00FFFF"/><circle cx="247.2" cy="373.5" r="2.4" fill="#00FFFF"/><circle cx="249.2" cy="376.1" r="2.4" fill="#00FFFF"/><circle cx="245.2" cy="379.4" r="2.4" fill="#00FFFF"/></g>
<line x1="39.8" y1="384.6" x2="324.7" y2="358.9" stroke="#000" stroke-width="2.0"/>
<line x1="39.8" y1="383.9" x2="324.7" y2="359.7" stroke="#FF0000" stroke-width="2.0"/>
<line x1="39.8" y1="376.7" x2="324.7" y2="363.4" stroke="#FFA500" stroke-width="1.8"/>
<path d="M25.6 288.3V527.1" stroke="#6A6A6A" stroke-width="1.1" fill="none"/>
<path d="M25.1 526.6H339" stroke="#8A8A8A" stroke-width="1.2" fill="none"/>
<text transform="translate(81.6 535.0) scale(1 1.2)" text-anchor="middle" font-size="6.1" fill="#4A4A4A" stroke="#4A4A4A" stroke-width="0.1">−0.2</text>
<text transform="translate(154.4 535.0) scale(1 1.2)" text-anchor="middle" font-size="6.1" fill="#4A4A4A" stroke="#4A4A4A" stroke-width="0.1">−0.1</text>
<text transform="translate(227.2 535.0) scale(1 1.2)" text-anchor="middle" font-size="6.1" fill="#4A4A4A" stroke="#4A4A4A" stroke-width="0.1">0.0</text>
<text transform="translate(300 535.0) scale(1 1.2)" text-anchor="middle" font-size="6.1" fill="#4A4A4A" stroke="#4A4A4A" stroke-width="0.1">0.1</text>
<text transform="translate(22.2 329.9) scale(1 1.2)" text-anchor="end" font-size="6.1" fill="#4A4A4A" stroke="#4A4A4A" stroke-width="0.1">0.1</text>
<text transform="translate(22.2 370.5) scale(1 1.2)" text-anchor="end" font-size="6.1" fill="#4A4A4A" stroke="#4A4A4A" stroke-width="0.1">0.0</text>
<text transform="translate(22.2 411.1) scale(1 1.2)" text-anchor="end" font-size="6.1" fill="#4A4A4A" stroke="#4A4A4A" stroke-width="0.1">−0.1</text>
<text transform="translate(22.2 451.7) scale(1 1.2)" text-anchor="end" font-size="6.1" fill="#4A4A4A" stroke="#4A4A4A" stroke-width="0.1">−0.2</text>
<text transform="translate(22.2 492.3) scale(1 1.2)" text-anchor="end" font-size="6.1" fill="#4A4A4A" stroke="#4A4A4A" stroke-width="0.1">−0.3</text>
<text x="38" y="282.8" font-size="8.94" style="font-weight:bold">Genetic association between MPB and KC in the UK Biobank cohort</text>
<text x="32.6" y="309.9" font-size="8.83">with outlier :beta_IVW= 0.15 , <tspan font-style="italic">p</tspan> = 3.86e−03</text>
<text x="29.8" y="326.1" font-size="8.83">exc. outlier :beta_IVW= 0.068 , <tspan font-style="italic">p</tspan> = 3.75e−02</text>
<text x="182.3" y="542.8" text-anchor="middle" font-size="7.65" style="font-weight:bold">SNP effect on standardized MPB score</text>
<text transform="translate(6.4 407.4) rotate(-90)" text-anchor="middle" font-size="7.62" style="font-weight:bold">SNP estimate for log(OR) on all KC</text>
<text x="213.1" y="331.5" font-size="7" fill="#111">rs3847069</text>
<text x="218.1" y="341.4" font-size="7" fill="#111">rs3669871</text>
<text x="208.6" y="482.8" font-size="7" fill="#111">rs1805007</text>
<text x="168.9" y="504.6" font-size="7" fill="#111">rs12203592</text>
<line x1="390.75" y1="289.4" x2="390.75" y2="526.7" stroke="#EBEBEB" stroke-width="0.5"/>
<line x1="463.45" y1="289.4" x2="463.45" y2="526.7" stroke="#EBEBEB" stroke-width="0.5"/>
<line x1="536.15" y1="289.4" x2="536.15" y2="526.7" stroke="#EBEBEB" stroke-width="0.5"/>
<line x1="608.85" y1="289.4" x2="608.85" y2="526.7" stroke="#EBEBEB" stroke-width="0.5"/>
<line x1="681.55" y1="289.4" x2="681.55" y2="526.7" stroke="#EBEBEB" stroke-width="0.5"/>
<line x1="370.7" y1="340.2" x2="684.5" y2="340.2" stroke="#EBEBEB" stroke-width="0.5"/>
<line x1="370.7" y1="406.2" x2="684.5" y2="406.2" stroke="#EBEBEB" stroke-width="0.5"/>
<line x1="370.7" y1="472.2" x2="684.5" y2="472.2" stroke="#EBEBEB" stroke-width="0.5"/>
<line x1="427.1" y1="289.4" x2="427.1" y2="526.7" stroke="#EBEBEB" stroke-width="0.9"/>
<line x1="499.8" y1="289.4" x2="499.8" y2="526.7" stroke="#EBEBEB" stroke-width="0.9"/>
<line x1="572.5" y1="289.4" x2="572.5" y2="526.7" stroke="#EBEBEB" stroke-width="0.9"/>
<line x1="645.2" y1="289.4" x2="645.2" y2="526.7" stroke="#EBEBEB" stroke-width="0.9"/>
<line x1="370.7" y1="307.2" x2="684.5" y2="307.2" stroke="#EBEBEB" stroke-width="0.9"/>
<line x1="370.7" y1="373.2" x2="684.5" y2="373.2" stroke="#EBEBEB" stroke-width="0.9"/>
<line x1="370.7" y1="439.2" x2="684.5" y2="439.2" stroke="#EBEBEB" stroke-width="0.9"/>
<line x1="370.7" y1="505.2" x2="684.5" y2="505.2" stroke="#EBEBEB" stroke-width="0.9"/>
<line x1="370.7" y1="373.2" x2="684.5" y2="373.2" stroke="#333" stroke-width="1.0" stroke-dasharray="3.1 2.4"/>
<line x1="572.5" y1="290.9" x2="572.5" y2="526.7" stroke="#333" stroke-width="1.0" stroke-dasharray="3 2.5"/>
<path d="M451.6 352.5H469.3M460.5 331.9V369.4M385 400.5H410.8M398.5 366.1V440M463.7 392.5H482.6M473.5 374.3V420M478 383.5H493.8M486.5 364.1V401.9M491.27 380.5H500.13M495.5 368.06V392.74M494.87 386.5H505.53M500.5 371.07V400.93M489.2 396.5H509.7M499.5 373.34V420M505.6 362.5H515.4M510.5 338.37V385.83M503.75 381.5H517.25M510.5 368.14V394.06M508.7 384.5H515.9M512.5 369.04V399.76M500.15 372.5H511.25M505.5 360.19V384.41M513.87 361.5H526.13M520.5 331.83V390.17M517.5 337.5H531.4M524.5 318.36V356.04M525.92 345.5H537.08M531.5 334.75V355.25M533.9 344.5H542.7M538.5 322.23V366.97M518.12 363.5H527.68M522.5 339.2V387.6M522.07 365.5H533.93M528.5 334.38V395.62M525.79 360.5H539.01M532.5 345.23V376.17M527.27 366.5H537.53M532.5 355.23V377.17M532.35 364.5H540.25M536.5 345.57V383.43M534.28 362.5H546.52M540.5 351.42V373.98M517.4 368.5H527.8M522.5 357.93V378.47M525.83 370.5H532.97M529.5 339.3V400.7M534.07 369.5H544.93M539.5 355.21V383.99M536.63 370.5H547.77M542.5 349.35V391.65M543.8 350.5H551.2M547.5 322.81V378.59M544.2 353.5H552.6M548.5 336.19V369.81M545.34 354.5H558.46M551.5 343.83V365.97M550.64 353.5H562.36M556.5 326.27V380.73M554.22 352.5H566.98M560.5 341.96V362.24M539.64 361.5H549.36M544.5 335.41V388.19M541.99 359.5H551.61M546.5 333.18V385.82M546.58 358.5H553.42M550.5 343.53V373.47M550.54 360.5H556.86M553.5 345.29V375.51M552.3 361.5H564.3M558.5 343.92V378.68M555.62 359.5H568.38M562.5 334.61V385.19M541.34 365.5H549.46M545.5 340.24V391.56M544.36 364.5H553.84M549.5 342.32V386.68M547.21 365.5H557.39M552.5 337.65V392.35M550.03 363.5H561.17M555.5 347.76V379.44M557.23 365.5H564.97M561.5 334.17V396.63M544.24 368.5H550.36M547.5 338.84V397.56M548.86 368.5H556.74M552.5 352.97V384.43M550.62 367.5H564.18M557.5 341.33V394.07M546.69 371.5H555.31M551.5 344.58V397.42M554.89 371.5H563.51M559.5 341.64V400.36M512.17 376.5H525.43M518.5 361.04V391.56M524.03 385.5H535.57M529.5 361.12V408.88M526.58 385.5H540.42M533.5 361.26V410.54M529.44 381.5H542.16M535.5 361.47V402.13M531.67 387.5H544.53M538.5 362.45V413.15M531.1 392.5H542.9M537.5 372.78V412.02M521.87 393.5H530.33M526.5 371.15V416.25M522.91 401.5H533.89M528.5 386.44V415.76M530.36 403.5H543.64M537.5 391.69V415.11M518.89 405.5H525.11M522.5 392.32V418.68M536.38 382.5H549.82M543.5 370.35V395.05M544.43 382.5H551.57M548.5 364.61V399.79M548.23 384.5H554.57M551.5 373.87V395.13M544.06 386.5H555.14M549.5 361.56V412.04M549.65 381.5H561.55M555.5 356.47V407.13M552.44 390.5H563.16M557.5 378.65V401.55M554.83 392.5H567.37M561.5 374.81V410.79M551.73 398.5H564.87M558.5 370.77V426.83M548.13 400.5H561.07M554.5 389.15V412.05M539.12 406.5H552.68M545.5 376.68V436.92M556.28 382.5H563.92M560.5 369.84V394.56M558.86 387.5H565.14M562.5 375.34V400.26M548.35 377.5H560.85M554.5 348.55V405.85M555.7 376.5H568.3M562.5 352.35V400.25M517.35 369.5H525.65M521.5 345.91V393.69M553.11 372.5H559.89M556.5 359.9V384.3M526.88 377.5H534.52M530.5 350.54V403.86M537.1 378.5H546.5M541.5 361.08V395.12M531.27 376.5H539.33M535.5 365.84V386.76M540.54 376.5H552.26M546.5 360.48V392.92M545.72 378.5H554.28M550.5 360.5V396.7M591.59 346.5H601.61M596.5 315.29V377.71M608.33 347.5H619.27M613.5 318.77V376.23M592.15 354.5H601.45M596.5 343.72V365.08M598.01 357.5H610.19M604.5 337.8V377M604.28 359.5H615.92M610.5 341.37V376.63M580.03 361.5H587.77M583.5 339.47V383.13M585.14 361.5H591.86M588.5 332.73V390.67M588.02 365.5H595.38M591.5 337.36V393.44M593.39 362.5H601.01M597.5 352.17V372.23M593.49 368.5H607.31M600.5 341.83V395.37M599.14 367.5H609.06M604.5 357.1V377.3M601.61 363.5H613.99M607.5 342.69V384.31M606.02 369.5H615.98M611.5 355.04V383.16M609.27 367.5H621.93M615.5 349.56V384.84M589.52 370.5H603.08M596.5 355.17V386.63M582.84 364.5H590.56M586.5 348.66V381.14M578.01 369.5H587.99M583.5 344.11V394.89M575.55 366.5H586.65M581.5 354.38V379.22M581.45 369.5H593.75M587.5 357.72V381.28M558.95 359.5H571.25M565.5 334.06V384.74M559.68 368.5H568.52M564.5 344.79V392.41M556.32 370.5H565.48M560.5 352.07V389.73M562.16 376.5H568.84M565.5 346.41V405.59M577.1 373.5H583.3M580.5 343.65V402.75M581.65 376.5H589.75M585.5 361.47V390.53M586.3 376.5H596.3M591.5 347.07V406.73M592.96 376.5H606.04M599.5 357.66V394.34M601.16 376.5H610.84M606.5 360.86V391.14M606.38 376.5H618.42M612.5 354.31V397.69M626.81 378.5H637.99M632.5 351.93V405.07M624.89 394.5H634.3M629.5 376.73V430M611.13 389.5H623.87M617.5 375.88V402.72M611.13 392.5H623.07M617.5 367.93V417.07M605.64 391.5H615.16M610.5 377.67V405.13M599.28 388.5H609.92M604.5 361.18V415.22M596.85 397.5H606.55M601.5 384.33V409.87M595.85 391.5H603.75M599.5 361.63V420.57M595.59 387.5H604.01M599.5 372.79V401.21M593.43 382.5H606.17M599.5 357.43V408.37M593.48 379.5H600.72M597.5 366.5V393.3M588.59 389.5H597.21M592.5 374.35V405.25M586.06 393.5H593.34M589.5 371.91V414.89M591.64 394.5H599.16M595.5 377.58V412.02M588.39 401.5H600.21M594.5 369.85V432.75M590.65 402.5H604.35M597.5 390.16V414.64M586.06 378.5H595.14M590.5 366.46V390.94M578.92 381.5H591.28M585.5 349.36V412.64M584.06 384.5H593.54M588.5 358.07V410.33M574.55 393.5H585.65M580.5 378.68V407.32M577.17 388.5H584.83M581.5 376.45V401.15M582.46 388.5H588.74M585.5 369.86V406.94M575.24 383.5H587.56M581.5 365.02V402.58M575.5 378.5H585.5M580.5 353.04V403.56M573.85 375.5H583.55M578.5 351.59V399.41M598.09 380.5H608.91M603.5 366.98V393.22M601.64 377.5H613.56M607.5 358.5V396.3M607.08 380.5H616.52M611.5 350.62V410.58M616.8 375.5H628.8M622.5 352.47V397.73M590.39 386.5H598.21M594.5 367.23V405.77M619.08 370.5H632.12M625.5 344.61V396.39M596.8 370.5H608.4M602.5 343.87V397.93M604.18 371.5H615.62M609.5 343.05V400.55M610.58 373.5H620.22M615.5 349.59V397.81M580.49 373.5H591.51M586.5 356.81V390.59M617.1 335.5H639.2M628.5 301V375M638 356.5H652.4M645.5 336.4V370.5M655.7 359.5H670M662.5 341.9V372.7M623.28 359.5H632.92M628.5 339.78V378.42M620.66 365.5H629.94M625.5 341.33V388.67M630.88 384.5H644.32M637.5 359.94V409.66M633.58 393.5H646.9M639.5 379.67V410.2M621.4 440.5H640.6M630.5 419.9V460.7M609 495.5H625.8M617.5 475V515.9M519.33 393.5H529.67M524.5 382.86V404.54M552.07 357.5H564.33M558.5 344.36V371.44M560.02 364.5H570.18M565.5 333.91V395.29M558.5 371.5H569.1M563.5 358.98V383.42M531.13 375.5H542.87M537.5 353.3V397.1M539.04 375.5H550.16M544.5 354.53V397.07M553.41 376.5H563.59M558.5 348.26V404.74M558.31 381.5H571.89M565.5 362.07V400.13M592.46 356.5H603.94M598.5 341.38V370.62M583.15 356.5H595.25M589.5 337.37V374.63M577.66 358.5H591.54M584.5 345.91V371.29M588.67 360.5H595.13M591.5 343.08V378.72M576 365.5H585.2M580.5 349.16V381.24M590.53 366.5H599.87M595.5 356.61V377.19M602.01 367.5H613.59M607.5 348.65V387.15M576.54 369.5H584.66M580.5 351.45V386.95M578.63 369.5H590.57M584.5 354.96V384.84M582.79 370.5H593.01M587.5 339.82V401.18M585.69 369.5H598.11M591.5 355.08V384.72M596.65 370.5H604.35M600.5 352.18V389.42M598.39 370.5H610.61M604.5 357.96V383.64M575.06 375.5H586.14M580.5 347.99V403.61M578.65 375.5H589.15M583.5 355.48V396.12M587.64 376.5H601.36M594.5 361.53V391.47M592.94 377.5H604.06M598.5 360.03V395.57M596.24 376.5H608.76M602.5 348.49V404.51M587.72 381.5H596.08M591.5 360.8V401.4M598.3 381.5H605.3M601.5 359.74V403.86M602.68 380.5H611.52M607.5 352.16V408.84" stroke="#D2D2D2" stroke-width="0.9" fill="none"/>
<text x="514.5" y="377.5" font-size="7" fill="#111">rs12203592</text>
<g stroke="#1f1f1f" stroke-width="0.62"><circle cx="460.4" cy="352.9" r="2.4" fill="#00FFFF"/><circle cx="398" cy="400.3" r="2.4" fill="#00FFFF"/><circle cx="473.4" cy="392.7" r="2.4" fill="#00FFFF"/><circle cx="486" cy="383.2" r="2.4" fill="#00FFFF"/><circle cx="495.7" cy="380.4" r="2.4" fill="#00FFFF"/><circle cx="500.2" cy="386" r="2.4" fill="#00FFFF"/><circle cx="499.2" cy="396.3" r="2.4" fill="#00FFFF"/><circle cx="510.5" cy="362.1" r="2.4" fill="#00FFFF"/><circle cx="510.5" cy="381.1" r="2.4" fill="#00FFFF"/><circle cx="512.3" cy="384.4" r="2.4" fill="#00FFFF"/><circle cx="505.7" cy="372.3" r="2.4" fill="#00FFFF"/><circle cx="520" cy="361" r="2.4" fill="#00FFFF"/><circle cx="524.1" cy="337.2" r="2.4" fill="#00FFFF"/><circle cx="531.5" cy="345" r="2.4" fill="#00FFFF"/><circle cx="538.3" cy="344.6" r="2.4" fill="#00FFFF"/><circle cx="522.9" cy="363.4" r="2.4" fill="#00FFFF"/><circle cx="528" cy="365" r="2.4" fill="#00FFFF"/><circle cx="532.4" cy="360.7" r="2.4" fill="#00FFFF"/><circle cx="532.4" cy="366.2" r="2.4" fill="#00FFFF"/><circle cx="536.3" cy="364.5" r="2.4" fill="#00FFFF"/><circle cx="540.4" cy="362.7" r="2.4" fill="#00FFFF"/><circle cx="522.6" cy="368.2" r="2.4" fill="#00FFFF"/><circle cx="529.4" cy="370" r="2.4" fill="#00FFFF"/><circle cx="539.5" cy="369.6" r="2.4" fill="#00FFFF"/><circle cx="542.2" cy="370.5" r="2.4" fill="#FFFFFF"/><circle cx="547.5" cy="350.7" r="2.4" fill="#FFFFFF"/><circle cx="548.4" cy="353" r="2.4" fill="#00FFFF"/><circle cx="551.9" cy="354.9" r="2.4" fill="#00FFFF"/><circle cx="556.5" cy="353.5" r="2.4" fill="#00FFFF"/><circle cx="560.6" cy="352.1" r="2.4" fill="#FFFFFF"/><circle cx="544.5" cy="361.8" r="2.4" fill="#FFFFFF"/><circle cx="546.8" cy="359.5" r="2.4" fill="#00FFFF"/><circle cx="550" cy="358.5" r="2.4" fill="#00FFFF"/><circle cx="553.7" cy="360.4" r="2.4" fill="#00FFFF"/><circle cx="558.3" cy="361.3" r="2.4" fill="#FFFFFF"/><circle cx="562" cy="359.9" r="2.4" fill="#FFFFFF"/><circle cx="545.4" cy="365.9" r="2.4" fill="#00FFFF"/><circle cx="549.1" cy="364.5" r="2.4" fill="#00FFFF"/><circle cx="552.3" cy="365" r="2.4" fill="#00FFFF"/><circle cx="555.6" cy="363.6" r="2.4" fill="#00FFFF"/><circle cx="561.1" cy="365.4" r="2.4" fill="#FFFFFF"/><circle cx="547.3" cy="368.2" r="2.4" fill="#00FFFF"/><circle cx="552.8" cy="368.7" r="2.4" fill="#00FFFF"/><circle cx="557.4" cy="367.7" r="2.4" fill="#FFFFFF"/><circle cx="551" cy="371" r="2.4" fill="#00FFFF"/><circle cx="559.2" cy="371" r="2.4" fill="#00FFFF"/><circle cx="518.8" cy="376.3" r="2.4" fill="#00FFFF"/><circle cx="529.8" cy="385" r="2.4" fill="#00FFFF"/><circle cx="533.5" cy="385.9" r="2.4" fill="#00FFFF"/><circle cx="535.8" cy="381.8" r="2.4" fill="#00FFFF"/><circle cx="538.1" cy="387.8" r="2.4" fill="#00FFFF"/><circle cx="537" cy="392.4" r="2.4" fill="#00FFFF"/><circle cx="526.1" cy="393.7" r="2.4" fill="#00FFFF"/><circle cx="528.4" cy="401.1" r="2.4" fill="#00FFFF"/><circle cx="537" cy="403.4" r="2.4" fill="#00FFFF"/><circle cx="522" cy="405.5" r="2.4" fill="#00FFFF"/><circle cx="543.1" cy="382.7" r="2.4" fill="#00FFFF"/><circle cx="548" cy="382.2" r="2.4" fill="#FFFFFF"/><circle cx="551.4" cy="384.5" r="2.4" fill="#FFFFFF"/><circle cx="549.6" cy="386.8" r="2.4" fill="#00FFFF"/><circle cx="555.6" cy="381.8" r="2.4" fill="#00FFFF"/><circle cx="557.8" cy="390.1" r="2.4" fill="#00FFFF"/><path d="M561.1 389.9L564 392.8L561.1 395.7L558.2 392.8Z" fill="#fff"/><path d="M558.3 395.9L561.2 398.8L558.3 401.7L555.4 398.8Z" fill="#fff"/><circle cx="554.6" cy="400.6" r="2.4" fill="#FFFFFF"/><path d="M545.9 403.9L548.8 406.8L545.9 409.7L543 406.8Z" fill="#fff"/><circle cx="560.1" cy="382.2" r="2.4" fill="#FFFFFF"/><circle cx="562" cy="387.8" r="2.4" fill="#FFFFFF"/><circle cx="554.6" cy="377.2" r="2.4" fill="#FFFFFF"/><circle cx="562" cy="376.3" r="2.4" fill="#FFFFFF"/><circle cx="521.5" cy="369.8" r="2.4" fill="#00FFFF"/><circle cx="556.5" cy="372.1" r="2.4" fill="#00FFFF"/><circle cx="530.7" cy="377.2" r="2.4" fill="#00FFFF"/><circle cx="541.8" cy="378.1" r="2.4" fill="#00FFFF"/><circle cx="535.3" cy="376.3" r="2.4" fill="#00FFFF"/><circle cx="546.4" cy="376.7" r="2.4" fill="#00FFFF"/><circle cx="550" cy="378.6" r="2.4" fill="#00FFFF"/><circle cx="596.6" cy="346.5" r="2.4" fill="#FFFFFF"/><circle cx="613.8" cy="347.5" r="2.4" fill="#FFFFFF"/><circle cx="596.8" cy="354.4" r="2.4" fill="#00FFFF"/><circle cx="604.1" cy="357.4" r="2.4" fill="#FFFFFF"/><circle cx="610.1" cy="359" r="2.4" fill="#00FFFF"/><circle cx="583.9" cy="361.3" r="2.4" fill="#FFFFFF"/><circle cx="588.5" cy="361.7" r="2.4" fill="#00FFFF"/><circle cx="591.7" cy="365.4" r="2.4" fill="#00FFFF"/><circle cx="597.2" cy="362.2" r="2.4" fill="#00FFFF"/><circle cx="600.4" cy="368.6" r="2.4" fill="#00FFFF"/><circle cx="604.1" cy="367.2" r="2.4" fill="#00FFFF"/><circle cx="607.8" cy="363.5" r="2.4" fill="#FFFFFF"/><circle cx="611" cy="369.1" r="2.4" fill="#00FFFF"/><circle cx="615.6" cy="367.2" r="2.4" fill="#00FFFF"/><circle cx="596.3" cy="370.9" r="2.4" fill="#00FFFF"/><circle cx="586.7" cy="364.9" r="2.4" fill="#00FFFF"/><circle cx="583" cy="369.5" r="2.4" fill="#FFFFFF"/><circle cx="581.1" cy="366.8" r="2.4" fill="#FFFFFF"/><circle cx="587.6" cy="369.5" r="2.4" fill="#00FFFF"/><circle cx="565.1" cy="359.4" r="2.4" fill="#FFFFFF"/><circle cx="564.1" cy="368.6" r="2.4" fill="#FFFFFF"/><circle cx="560.9" cy="370.9" r="2.4" fill="#00FFFF"/><circle cx="565.5" cy="376" r="2.4" fill="#FFFFFF"/><circle cx="580.2" cy="373.2" r="2.4" fill="#FFFFFF"/><circle cx="585.7" cy="376" r="2.4" fill="#00FFFF"/><circle cx="591.3" cy="376.9" r="2.4" fill="#00FFFF"/><circle cx="599.5" cy="376" r="2.4" fill="#00FFFF"/><circle cx="606" cy="376" r="2.4" fill="#00FFFF"/><circle cx="612.4" cy="376" r="2.4" fill="#00FFFF"/><circle cx="632.4" cy="378.5" r="2.4" fill="#00FFFF"/><circle cx="629.2" cy="394.4" r="2.4" fill="#FFFFFF"/><circle cx="617.5" cy="389.3" r="2.4" fill="#00FFFF"/><circle cx="617.1" cy="392.5" r="2.4" fill="#00FFFF"/><circle cx="610.4" cy="391.4" r="2.4" fill="#00FFFF"/><circle cx="604.6" cy="388.2" r="2.4" fill="#00FFFF"/><circle cx="601.7" cy="397.1" r="2.4" fill="#00FFFF"/><circle cx="599.8" cy="391.1" r="2.4" fill="#00FFFF"/><circle cx="599.8" cy="387" r="2.4" fill="#00FFFF"/><circle cx="599.8" cy="382.9" r="2.4" fill="#00FFFF"/><circle cx="597.1" cy="379.9" r="2.4" fill="#00FFFF"/><circle cx="592.9" cy="389.8" r="2.4" fill="#00FFFF"/><circle cx="589.7" cy="393.4" r="2.4" fill="#00FFFF"/><circle cx="595.4" cy="394.8" r="2.4" fill="#00FFFF"/><circle cx="594.3" cy="401.3" r="2.4" fill="#FFFFFF"/><circle cx="597.5" cy="402.4" r="2.4" fill="#00FFFF"/><circle cx="590.6" cy="378.7" r="2.4" fill="#00FFFF"/><circle cx="585.1" cy="381" r="2.4" fill="#00FFFF"/><circle cx="588.8" cy="384.2" r="2.4" fill="#FFFFFF"/><circle cx="580.1" cy="393" r="2.4" fill="#FFFFFF"/><circle cx="581" cy="388.8" r="2.4" fill="#FFFFFF"/><circle cx="585.6" cy="388.4" r="2.4" fill="#FFFFFF"/><circle cx="581.4" cy="383.8" r="2.4" fill="#FFFFFF"/><circle cx="580.5" cy="378.3" r="2.4" fill="#FFFFFF"/><circle cx="578.7" cy="375.5" r="2.4" fill="#FFFFFF"/><circle cx="603.5" cy="380.1" r="2.4" fill="#00FFFF"/><circle cx="607.6" cy="377.4" r="2.4" fill="#00FFFF"/><circle cx="611.8" cy="380.6" r="2.4" fill="#00FFFF"/><circle cx="622.8" cy="375.1" r="2.4" fill="#00FFFF"/><circle cx="594.3" cy="386.5" r="2.4" fill="#00FFFF"/><circle cx="625.6" cy="370.5" r="2.4" fill="#00FFFF"/><circle cx="602.6" cy="370.9" r="2.4" fill="#00FFFF"/><circle cx="609.9" cy="371.8" r="2.4" fill="#00FFFF"/><circle cx="615.4" cy="373.7" r="2.4" fill="#00FFFF"/><circle cx="586" cy="373.7" r="2.4" fill="#00FFFF"/><circle cx="628.1" cy="335.3" r="2.4" fill="#00FFFF"/><circle cx="645.3" cy="356.9" r="2.4" fill="#00FFFF"/><circle cx="662.7" cy="359.1" r="2.4" fill="#00FFFF"/><circle cx="628.1" cy="359.1" r="2.4" fill="#00FFFF"/><circle cx="625.3" cy="365" r="2.4" fill="#FFFFFF"/><circle cx="637.6" cy="384.8" r="2.4" fill="#00FFFF"/><circle cx="639.2" cy="393.7" r="2.4" fill="#00FFFF"/><circle cx="630.9" cy="440.2" r="2.4" fill="#00FFFF"/><circle cx="617.4" cy="495.4" r="2.4" fill="#00FFFF"/><circle cx="524.5" cy="393.7" r="2.4" fill="#00FFFF"/><circle cx="558.2" cy="357.9" r="2.4" fill="#00FFFF"/><circle cx="565.1" cy="364.6" r="2.4" fill="#FFFFFF"/><circle cx="563.8" cy="371.2" r="2.4" fill="#FFFFFF"/><circle cx="537" cy="375.2" r="2.4" fill="#00FFFF"/><circle cx="544.6" cy="375.8" r="2.4" fill="#00FFFF"/><circle cx="558.5" cy="376.5" r="2.4" fill="#00FFFF"/><circle cx="565.1" cy="381.1" r="2.4" fill="#FFFFFF"/><circle cx="598.2" cy="356" r="2.4" fill="#00FFFF"/><circle cx="589.2" cy="356" r="2.4" fill="#00FFFF"/><circle cx="584.6" cy="358.6" r="2.4" fill="#00FFFF"/><circle cx="591.9" cy="360.9" r="2.4" fill="#00FFFF"/><circle cx="580.6" cy="365.2" r="2.4" fill="#FFFFFF"/><circle cx="595.2" cy="366.9" r="2.4" fill="#00FFFF"/><circle cx="607.8" cy="367.9" r="2.4" fill="#00FFFF"/><circle cx="580.6" cy="369.2" r="2.4" fill="#FFFFFF"/><circle cx="584.6" cy="369.9" r="2.4" fill="#FFFFFF"/><circle cx="587.9" cy="370.5" r="2.4" fill="#FFFFFF"/><circle cx="591.9" cy="369.9" r="2.4" fill="#FFFFFF"/><circle cx="600.5" cy="370.8" r="2.4" fill="#00FFFF"/><circle cx="604.5" cy="370.8" r="2.4" fill="#00FFFF"/><circle cx="580.6" cy="375.8" r="2.4" fill="#FFFFFF"/><circle cx="583.9" cy="375.8" r="2.4" fill="#00FFFF"/><circle cx="594.5" cy="376.5" r="2.4" fill="#00FFFF"/><circle cx="598.5" cy="377.8" r="2.4" fill="#FFFFFF"/><circle cx="602.5" cy="376.5" r="2.4" fill="#00FFFF"/><circle cx="591.9" cy="381.1" r="2.4" fill="#00FFFF"/><circle cx="601.8" cy="381.8" r="2.4" fill="#00FFFF"/><circle cx="607.1" cy="380.5" r="2.4" fill="#00FFFF"/></g>
<line x1="385" y1="373.6" x2="669.7" y2="373.6" stroke="#000" stroke-width="1.6"/>
<line x1="385" y1="370.3" x2="669.7" y2="374.9" stroke="#FF0000" stroke-width="1.9"/>
<line x1="385" y1="373.6" x2="669.7" y2="373.6" stroke="#FFA500" stroke-width="1.6"/>
<line x1="370.7" y1="373.2" x2="684.5" y2="373.2" stroke="#333" stroke-width="1.0" stroke-dasharray="3.1 2.4"/>
<path d="M370.7 289.4V527.2" stroke="#6A6A6A" stroke-width="1.1" fill="none"/>
<path d="M370.2 526.7H684.5" stroke="#8A8A8A" stroke-width="1.2" fill="none"/>
<text transform="translate(427.1 535.0) scale(1 1.2)" text-anchor="middle" font-size="6.1" fill="#4A4A4A" stroke="#4A4A4A" stroke-width="0.1">−0.2</text>
<text transform="translate(499.8 535.0) scale(1 1.2)" text-anchor="middle" font-size="6.1" fill="#4A4A4A" stroke="#4A4A4A" stroke-width="0.1">−0.1</text>
<text transform="translate(572.5 535.0) scale(1 1.2)" text-anchor="middle" font-size="6.1" fill="#4A4A4A" stroke="#4A4A4A" stroke-width="0.1">0.0</text>
<text transform="translate(645.2 535.0) scale(1 1.2)" text-anchor="middle" font-size="6.1" fill="#4A4A4A" stroke="#4A4A4A" stroke-width="0.1">0.1</text>
<text transform="translate(367.3 309.7) scale(1 1.2)" text-anchor="end" font-size="6.1" fill="#4A4A4A" stroke="#4A4A4A" stroke-width="0.1">0.2</text>
<text transform="translate(367.3 375.7) scale(1 1.2)" text-anchor="end" font-size="6.1" fill="#4A4A4A" stroke="#4A4A4A" stroke-width="0.1">0.0</text>
<text transform="translate(367.3 441.7) scale(1 1.2)" text-anchor="end" font-size="6.1" fill="#4A4A4A" stroke="#4A4A4A" stroke-width="0.1">−0.2</text>
<text transform="translate(367.3 507.7) scale(1 1.2)" text-anchor="end" font-size="6.1" fill="#4A4A4A" stroke="#4A4A4A" stroke-width="0.1">−0.4</text>
<text x="378.9" y="283.7" font-size="10.2" style="font-weight:bold">Genetic association between MPB and melanoma (GenoMEL)</text>
<text x="373.1" y="319.8" font-size="8.82">with outlier :beta_IVW= −0.038 , <tspan font-style="italic">p</tspan> = 3.84e−01</text>
<text x="373.1" y="332.6" font-size="8.82">exc. outlier :beta_IVW= −0.038 , <tspan font-style="italic">p</tspan> = 3.92e−01</text>
<text x="527.6" y="542.8" text-anchor="middle" font-size="7.65" style="font-weight:bold">SNP effect on standardized MPB score</text>
<text transform="translate(352.3 408) rotate(-90)" text-anchor="middle" font-size="7.62" style="font-weight:bold">SNP estimate for log(OR) on melanoma</text>
<text x="562" y="352.5" font-size="7" fill="#111">rs3847069</text>
<text x="563" y="355.3" font-size="7" fill="#111">rs3669871</text>
<rect x="370.8" y="408.7" width="170.8" height="106.5" fill="none" stroke="#4D4D4D" stroke-width="0.9"/>
<text x="374.8" y="420.7" font-size="10.03" style="font-weight:bold">MR association (IVW)</text>
<line x1="375.1" y1="432.6" x2="384.1" y2="432.6" stroke="#000" stroke-width="1.4"/>
<line x1="375.1" y1="443.5" x2="384.1" y2="443.5" stroke="#E00000" stroke-width="1.4"/>
<line x1="375.1" y1="454.5" x2="384.1" y2="454.5" stroke="#F5A000" stroke-width="1.4"/>
<text x="390.9" y="435.5" font-size="9.45" style="font-weight:bold">Using all MPB variants</text>
<text x="390.9" y="446.4" font-size="9.45" style="font-weight:bold">Using p&lt;1e−5 only</text>
<text x="390.9" y="457.7" font-size="9.45" style="font-weight:bold">Using p&lt;1e−5, excl. SNP−outliers</text>
<text x="374.8" y="482.6" font-size="10.03" style="font-weight:bold">Instruments</text>
<circle cx="379.7" cy="495" r="2.3" fill="#fff" stroke="#1a1a1a" stroke-width="0.7"/>
<line x1="375" y1="495" x2="384" y2="495" stroke="#4477FF" stroke-width="2.2"/>
<circle cx="379.7" cy="505.9" r="2.3" fill="#00FFFF" stroke="#1a1a1a" stroke-width="0.7"/>
<line x1="375" y1="505.9" x2="384" y2="505.9" stroke="#4477FF" stroke-width="2.2"/>
<text x="390.9" y="498.3" font-size="9.45" style="font-weight:bold">otherwise</text>
<text x="390.9" y="509.4" font-size="9.45" style="font-weight:bold">p&lt;1e−5 in independent subset</text>
</svg>
</body></html>
